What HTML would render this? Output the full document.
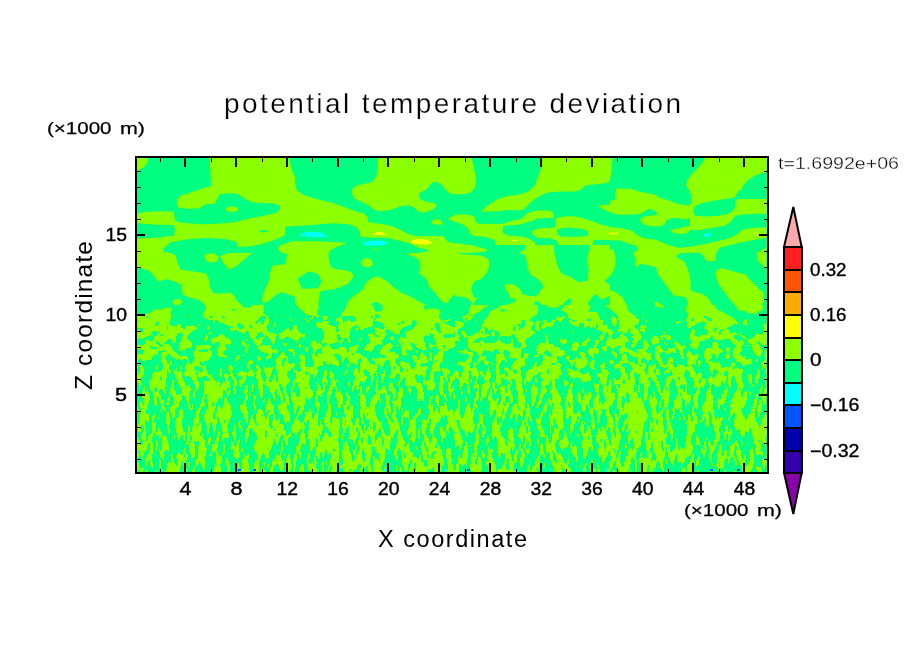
<!DOCTYPE html>
<html><head><meta charset="utf-8"><style>
html,body{margin:0;padding:0;background:#fff;width:904px;height:654px;overflow:hidden}
svg{display:block;will-change:transform}
text{font-family:'Liberation Sans',sans-serif;fill:#000}
</style></head><body>
<svg width="904" height="654" viewBox="0 0 904 654" shape-rendering="crispEdges">
<rect width="904" height="654" fill="#fff"/>

<rect x="137" y="158" width="630" height="314" fill="#8cff00"/>
<defs>
<clipPath id="t0"><rect x="135" y="156" width="160" height="80"/></clipPath>
<clipPath id="t1"><rect x="295" y="156" width="160" height="80"/></clipPath>
<clipPath id="t2"><rect x="455" y="156" width="160" height="49"/></clipPath>
<clipPath id="t3"><rect x="455" y="205" width="80" height="40"/></clipPath>
<clipPath id="t4"><rect x="535" y="205" width="80" height="40"/></clipPath>
<clipPath id="t5"><rect x="610" y="156" width="160" height="34"/></clipPath>
<clipPath id="t6"><rect x="610" y="190" width="80" height="40"/></clipPath>
<clipPath id="t7"><rect x="690" y="190" width="80" height="40"/></clipPath>
<clipPath id="t8"><rect x="135" y="236" width="160" height="80"/></clipPath>
<clipPath id="t9"><rect x="295" y="236" width="160" height="80"/></clipPath>
<clipPath id="t10"><rect x="455" y="245" width="160" height="80"/></clipPath>
<clipPath id="t11"><rect x="610" y="230" width="160" height="80"/></clipPath>
<clipPath id="t12"><rect x="135" y="305" width="80" height="40"/></clipPath>
<clipPath id="t13"><rect x="215" y="305" width="80" height="40"/></clipPath>
<clipPath id="t14"><rect x="295" y="305" width="80" height="40"/></clipPath>
<clipPath id="t15"><rect x="375" y="305" width="80" height="40"/></clipPath>
<clipPath id="t16"><rect x="455" y="305" width="80" height="40"/></clipPath>
<clipPath id="t17"><rect x="535" y="305" width="80" height="40"/></clipPath>
<clipPath id="t18"><rect x="610" y="305" width="80" height="40"/></clipPath>
<clipPath id="t19"><rect x="690" y="305" width="80" height="40"/></clipPath>
<clipPath id="plotclip"><rect x="137" y="158" width="630" height="314"/></clipPath>
</defs>
<g shape-rendering="auto" clip-path="url(#plotclip)">
<g clip-path="url(#t0)"><rect x="135" y="156" width="160" height="80" fill="#8cff00"/>
<g transform="translate(135,156) scale(0.176991)">
<polygon points="75,0 420,0 425,60 430,170 400,178 330,200 270,220 240,240 235,265 245,290 280,298 360,296 400,272 455,268 465,240 480,215 540,210 580,215 620,240 660,262 780,268 815,280 820,300 800,320 740,335 640,355 560,375 460,383 380,385 300,380 250,375 225,360 220,315 150,312 60,315 25,322 0,330 0,85 40,70 70,40" fill="#00ff80"/>
<polygon points="510,300 520,290 548,285 575,290 585,300 575,312 548,316 520,312" fill="#8cff00"/>
<polygon points="0,370 30,382 120,388 215,390 225,410 222,440 215,452 0,452" fill="#00ff80"/>
<polygon points="870,0 904,0 904,120 895,100 880,60" fill="#00ff80"/>
<polygon points="850,400 904,395 904,452 845,452" fill="#00ff80"/>
<polygon points="700,425 720,418 745,420 750,428 720,432" fill="#00ff80"/>
</g></g>
<g clip-path="url(#t1)"><rect x="295" y="156" width="160" height="80" fill="#8cff00"/>
<g transform="translate(295,156) scale(0.176991)">
<polygon points="0,0 470,0 468,60 460,110 440,145 400,155 350,165 325,185 320,210 335,240 380,262 420,282 445,302 480,312 540,305 590,285 640,278 670,290 695,312 730,320 780,302 800,280 790,265 740,258 708,245 700,210 740,190 775,150 800,145 830,165 860,200 880,215 904,215 904,335 880,345 865,355 880,365 904,370 904,452 680,452 640,440 600,420 560,400 500,385 415,375 410,345 390,325 330,308 270,285 200,262 120,243 50,220 10,195 0,150" fill="#00ff80"/>
<polygon points="770,370 790,358 810,356 830,368 835,385 800,388 772,382" fill="#8cff00"/>
<polygon points="0,395 60,392 150,385 220,380 300,385 345,400 360,420 370,452 0,452" fill="#00ff80"/>
<polygon points="35,440 60,430 120,430 160,435 175,452 30,452" fill="#00ffff"/>
<polygon points="445,440 465,428 490,430 510,440 505,446 445,446" fill="#ffff00"/>
</g></g>
<g clip-path="url(#t2)"><rect x="455" y="156" width="160" height="49" fill="#00ff80"/>
<g transform="translate(455,156) scale(0.176991)">
<polygon points="0,0 90,0 105,60 118,120 112,180 90,205 60,215 0,218" fill="#8cff00"/>
<polygon points="495,0 890,0 885,60 880,120 870,150 820,158 740,165 710,190 680,200 600,200 530,205 490,220 450,245 420,270 400,295 350,308 280,310 200,312 150,315 165,295 200,270 240,245 280,230 330,222 380,215 420,195 450,165 465,130 475,100 490,60" fill="#8cff00"/>
</g></g>
<g clip-path="url(#t3)"><rect x="455" y="205" width="80" height="40" fill="#00ff80"/>
<g transform="translate(455,205) scale(0.088496)">
<polygon points="295,75 490,72 560,58 670,60 760,55 800,30 820,0 370,0" fill="#8cff00"/>
<polygon points="0,105 160,110 215,130 240,195 270,212 480,215 560,210 600,190 650,175 740,160 780,130 820,90 870,75 904,65 904,170 860,180 800,200 760,215 700,225 600,230 550,240 535,280 545,320 600,345 700,350 800,365 850,390 904,420 904,452 460,452 450,400 420,380 350,365 210,350 170,320 150,270 120,240 60,210 0,190" fill="#8cff00"/>
<polygon points="870,290 904,285 904,345 875,335" fill="#8cff00"/>
<polygon points="0,430 60,435 120,445 125,452 0,452" fill="#8cff00"/>
<polygon points="645,395 710,395 710,405 645,405" fill="#ffff00"/>
</g></g>
<g clip-path="url(#t4)"><rect x="535" y="205" width="80" height="40" fill="#00ff80"/>
<g transform="translate(535,205) scale(0.088496)">
<polygon points="715,0 904,0 904,100 870,90 820,70 770,45 730,20" fill="#8cff00"/>
<polygon points="0,70 60,60 180,65 210,100 215,145 80,150 0,155" fill="#8cff00"/>
<polygon points="230,150 340,128 440,128 520,145 600,170 680,195 760,225 830,240 904,250 904,400 830,395 700,392 660,400 650,452 270,452 240,400 190,380 60,370 0,365 0,270 80,262 200,258 225,250" fill="#8cff00"/>
<polygon points="250,275 300,262 380,255 460,262 540,270 590,290 605,320 590,345 540,355 380,358 290,355 260,330 248,300" fill="#00ff80"/>
<polygon points="825,318 904,318 904,335 880,335 825,325" fill="#ffff00"/>
</g></g>
<g clip-path="url(#t5)"><rect x="610" y="156" width="160" height="34" fill="#00ff80"/>
<g transform="translate(610,156) scale(0.176991)">
<polygon points="0,10 15,10 10,60 5,110 0,130" fill="#8cff00"/>
<polygon points="545,0 904,0 904,90 870,95 820,110 780,135 755,165 740,192 735,200 460,200 445,190 430,165 435,140 460,105 490,75 520,40" fill="#8cff00"/>
<polygon points="30,200 35,185 60,183 120,186 200,200 210,210 30,210" fill="#8cff00"/>
</g></g>
<g clip-path="url(#t6)"><rect x="610" y="190" width="80" height="40" fill="#00ff80"/>
<g transform="translate(610,190) scale(0.088496)">
<polygon points="0,125 40,115 65,95 60,40 70,0 290,0 300,10 400,30 480,45 530,65 560,90 620,105 700,130 780,160 904,175 904,320 860,330 780,318 700,318 650,335 630,360 615,390 580,410 500,412 420,402 370,380 345,350 345,320 380,300 450,290 510,282 540,275 520,250 490,225 450,213 410,228 370,255 330,270 280,278 100,280 40,265 0,250" fill="#8cff00"/>
<polygon points="700,452 740,440 820,420 870,410 904,405 904,452" fill="#8cff00"/>
<polygon points="0,420 60,425 150,435 210,452 0,452" fill="#8cff00"/>
</g></g>
<g clip-path="url(#t7)"><rect x="690" y="190" width="80" height="40" fill="#8cff00"/>
<g transform="translate(690,190) scale(0.088496)">
<polygon points="560,0 904,0 904,100 545,102 515,130 510,180 500,215 470,245 420,270 320,290 170,300 60,290 40,260 35,215 60,180 130,150 250,125 380,105 480,90 510,80 530,40" fill="#00ff80"/>
<polygon points="0,30 15,40 20,100 15,150 0,160" fill="#00ff80"/>
<polygon points="110,452 200,435 300,420 400,400 460,360 490,320 520,290 600,278 700,270 904,268 904,430 800,420 700,430 600,445 590,452" fill="#00ff80"/>
</g></g>
<g clip-path="url(#t8)"><rect x="135" y="236" width="160" height="80" fill="#8cff00"/>
<g transform="translate(135,236) scale(0.176991)">
<polygon points="0,0 180,0 150,8 80,12 0,14" fill="#00ff80"/>
<polygon points="155,78 200,35 300,18 400,12 520,18 575,35 580,62 650,60 740,40 820,8 835,0 904,0 904,25 860,40 815,55 808,75 825,95 860,100 850,160 780,165 765,200 760,240 740,290 720,340 720,380 700,400 640,405 600,385 570,360 560,335 540,320 470,325 440,320 425,290 415,240 400,210 330,200 260,190 240,150 230,110 200,95 165,90" fill="#00ff80"/>
<polygon points="390,110 410,98 450,100 475,120 460,145 430,150 400,140" fill="#8cff00"/>
<polygon points="480,115 520,98 600,95 660,97 620,130 580,165 545,185 520,182 500,150" fill="#8cff00"/>
<polygon points="0,180 40,185 80,195 110,230 130,255 180,245 220,255 260,275 270,330 300,345 360,360 390,380 395,410 380,440 390,452 200,452 215,430 210,410 170,405 100,430 60,452 0,452" fill="#00ff80"/>
<polygon points="210,370 225,357 255,358 265,375 250,392 225,392" fill="#8cff00"/>
<polygon points="720,380 760,365 800,330 830,318 870,330 904,345 904,452 730,452 725,420" fill="#00ff80"/>
<polygon points="540,418 555,410 575,415 570,425 545,425" fill="#00ff80"/>
</g></g>
<g clip-path="url(#t9)"><rect x="295" y="236" width="160" height="80" fill="#8cff00"/>
<g transform="translate(295,236) scale(0.176991)">
<polygon points="0,0 370,0 380,5 450,10 530,12 560,20 640,40 700,68 750,75 740,90 700,95 620,100 680,120 705,140 710,180 700,210 740,240 760,290 800,330 830,370 860,380 880,350 904,330 904,452 830,452 825,420 780,400 720,380 650,340 600,320 560,290 520,255 470,228 430,240 400,265 385,300 360,320 330,340 300,370 285,400 270,440 260,452 120,452 130,400 140,320 150,310 230,300 300,270 330,230 320,205 290,195 220,185 200,170 190,130 190,95 200,80 240,60 280,45 290,38 130,30 0,30" fill="#00ff80"/>
<polygon points="370,150 385,130 410,125 435,135 440,160 425,175 390,175" fill="#8cff00"/>
<polygon points="840,0 904,0 904,40 870,35 850,20" fill="#00ff80"/>
<polygon points="60,0 185,0 180,5 65,5" fill="#00ffff"/>
<polygon points="380,40 420,28 480,25 530,40 500,52 430,55 390,50" fill="#00ffff"/>
<polygon points="655,25 690,17 740,20 780,40 740,48 680,45 660,38" fill="#ffff00"/>
<polygon points="445,72 465,72 465,78 445,78" fill="#8cff00"/>
<polygon points="15,240 75,200 130,215 150,255 130,295 40,298" fill="#00ff80"/>
<polygon points="425,390 450,372 480,380 495,410 480,430 445,425" fill="#00ff80"/>
</g></g>
<g clip-path="url(#t10)"><rect x="455" y="245" width="160" height="80" fill="#8cff00"/>
<g transform="translate(455,245) scale(0.176991)">
<polygon points="90,0 400,0 395,25 360,45 395,55 405,90 410,130 425,165 480,200 500,235 480,260 465,285 420,290 380,275 365,245 330,222 285,222 280,240 300,270 310,300 340,305 345,320 300,335 250,345 210,370 185,400 165,452 50,452 40,420 65,400 90,370 100,340 115,310 160,290 205,265 215,245 250,260 230,285 170,300 110,300 95,270 92,240 110,205 150,190 185,150 195,110 190,80 150,60 80,55 20,50 20,45 90,45 175,38 185,25" fill="#00ff80"/>
<polygon points="0,290 60,295 95,320 85,360 60,390 45,420 0,440" fill="#00ff80"/>
<polygon points="560,0 760,0 755,40 745,80 755,130 750,200 700,210 650,180 600,160 580,120 570,80 560,40" fill="#00ff80"/>
<polygon points="880,0 904,0 904,20 880,15" fill="#00ff80"/>
<polygon points="904,120 880,170 845,205 880,228 890,260 870,290 830,310 800,280 780,285 750,330 770,370 810,400 820,452 904,452" fill="#00ff80"/>
<polygon points="445,320 470,320 500,345 560,355 600,350 620,320 650,300 660,320 620,360 610,390 640,420 680,430 700,452 350,452 380,440 430,420 440,390 460,360 450,340" fill="#00ff80"/>
<polygon points="255,372 270,365 285,370 280,380 260,380" fill="#8cff00"/>
</g></g>
<g clip-path="url(#t11)"><rect x="610" y="230" width="160" height="80" fill="#00ff80"/>
<g transform="translate(610,230) scale(0.176991)">
<polygon points="0,0 120,0 150,25 190,45 260,55 330,85 390,100 450,95 530,80 600,65 680,45 730,15 745,0 885,0 885,45 820,55 740,70 680,85 620,100 600,130 595,175 540,175 530,150 510,128 400,130 370,150 420,180 440,220 455,280 455,340 480,350 520,360 550,380 590,440 600,452 430,452 440,420 430,380 360,370 330,330 300,290 270,250 260,210 220,200 170,190 150,210 140,195 150,175 130,130 160,110 150,90 100,75 60,60 0,58" fill="#8cff00"/>
<polygon points="0,110 20,108 30,150 30,200 15,240 0,260" fill="#8cff00"/>
<polygon points="600,230 630,215 700,235 760,250 800,290 840,330 865,350 870,400 850,440 830,452 720,452 700,420 660,370 630,330 605,290 598,260" fill="#8cff00"/>
<polygon points="830,130 860,110 885,100 885,210 860,200 835,170" fill="#8cff00"/>
<polygon points="0,340 30,350 70,380 95,430 100,452 0,452" fill="#8cff00"/>
<polygon points="0,15 45,15 45,25 0,25" fill="#ffff00"/>
<polygon points="810,15 835,15 835,22 810,22" fill="#ffff00"/>
<polygon points="520,35 545,18 575,18 565,35 540,40" fill="#00ffff"/>
<polygon points="340,0 450,0 440,15 400,22 355,15" fill="#8cff00"/>
<polygon points="250,410 270,405 300,435 260,440" fill="#8cff00"/>
</g></g>
<g clip-path="url(#t12)"><rect x="135" y="305" width="80" height="40" fill="#8cff00"/>
<g transform="translate(135,305) scale(0.088496)">
<polygon points="0,0 800,0 800,40 765,100 780,150 820,165 904,165 904,300 840,310 790,330 750,380 720,420 680,452 640,452 590,400 580,360 620,320 660,280 720,270 680,240 640,230 580,230 570,270 520,260 470,240 420,235 390,215 400,170 410,120 400,70 420,50 400,30 350,30 300,50 210,50 200,70 170,90 120,100 30,105 0,110" fill="#00ff80"/>
<polygon points="0,452 0,420 50,400 130,360 180,340 210,350 220,390 190,410 160,452" fill="#00ff80"/>
<polygon points="740,452 730,390 780,340 820,320 860,330 904,340 904,452" fill="#00ff80"/>
<polygon points="780,380 800,340 830,350 820,400 790,400" fill="#8cff00"/>
<polygon points="330,240 370,240 370,280 335,280" fill="#00ff80"/>
<polygon points="250,320 270,300 290,325" fill="#00ff80"/>
</g></g>
<g clip-path="url(#t13)"><rect x="215" y="305" width="80" height="40" fill="#8cff00"/>
<g transform="translate(215,305) scale(0.088496)">
<polygon points="290,0 420,0 410,20 380,30 320,25" fill="#00ff80"/>
<polygon points="550,0 904,0 904,270 820,260 780,290 740,320 680,325 620,310 590,290 580,250 600,220 615,190 600,130 570,110 540,95 555,60" fill="#00ff80"/>
<polygon points="0,170 30,170 50,195 120,215 150,235 200,250 250,290 300,310 340,330 350,370 330,400 360,405 400,370 430,390 440,452 0,452" fill="#00ff80"/>
<polygon points="0,360 30,365 35,452 0,452" fill="#8cff00"/>
<polygon points="490,320 510,300 540,320 560,355 500,360" fill="#00ff80"/>
<polygon points="180,55 200,45 235,50 230,65 185,65" fill="#00ff80"/>
<polygon points="70,135 90,125 110,130 110,145 75,145" fill="#00ff80"/>
<polygon points="505,205 520,195 550,205 545,215 510,215" fill="#00ff80"/>
<polygon points="880,400 904,395 904,452 870,452" fill="#00ff80"/>
</g></g>
<g clip-path="url(#t14)"><rect x="295" y="305" width="80" height="40" fill="#00ff80"/>
<g transform="translate(295,305) scale(0.088496)">
<polygon points="30,0 270,0 265,40 250,70 250,100 280,130 240,150 200,160 150,165 150,155 190,140 190,115 120,110 90,70 50,40 30,15" fill="#8cff00"/>
<polygon points="590,0 880,0 890,30 904,60 904,140 890,160 885,200 880,260 840,250 780,260 760,290 740,280 720,250 700,230 660,240 630,270 620,320 610,380 640,420 660,452 310,452 310,400 330,350 320,300 290,240 295,200 310,185 370,180 410,200 440,220 490,225 495,195 460,180 465,150 500,140 520,130 520,95 560,60 570,30" fill="#8cff00"/>
<polygon points="530,140 550,125 590,130 600,160 590,190 540,190" fill="#00ff80"/>
<polygon points="0,285 20,290 40,330 45,370 30,390 0,400" fill="#8cff00"/>
<polygon points="880,260 904,250 904,420 870,410 850,350 870,300" fill="#8cff00"/>
</g></g>
<g clip-path="url(#t15)"><rect x="375" y="305" width="80" height="40" fill="#8cff00"/>
<g transform="translate(375,305) scale(0.088496)">
<polygon points="0,0 80,0 90,40 60,70 20,75 0,70" fill="#00ff80"/>
<polygon points="0,100 40,110 55,140 20,150 0,150" fill="#00ff80"/>
<polygon points="0,180 30,190 50,230 40,255 0,260" fill="#00ff80"/>
<polygon points="550,0 904,0 904,250 860,240 820,220 770,200 740,160 720,130 740,80 740,60 680,40 600,40 580,60 550,30" fill="#00ff80"/>
<polygon points="120,270 170,290 230,330 280,320 290,270 340,250 400,220 440,220 450,240 420,270 370,300 320,340 290,360 260,400 280,430 300,452 100,452 80,400 130,340 120,300" fill="#00ff80"/>
<polygon points="560,350 630,320 660,330 670,380 690,420 680,452 560,452 550,400" fill="#00ff80"/>
<polygon points="880,320 904,300 904,360 875,360" fill="#00ff80"/>
<polygon points="840,420 870,405 880,452 840,452" fill="#00ff80"/>
<polygon points="680,205 720,205 720,260 680,260" fill="#00ff80"/>
<polygon points="295,215 300,175 320,170 330,215" fill="#00ff80"/>
<polygon points="0,330 40,350 50,360 0,365" fill="#00ff80"/>
<polygon points="0,420 40,430 45,452 0,452" fill="#00ff80"/>
</g></g>
<g clip-path="url(#t16)"><rect x="455" y="305" width="80" height="40" fill="#8cff00"/>
<g transform="translate(455,305) scale(0.088496)">
<polygon points="0,0 540,0 500,15 475,40 438,52 406,65 388,90 375,121 356,146 331,177 306,227 290,270 280,300 230,320 200,340 140,355 130,300 100,290 40,300 30,270 90,250 110,230 100,200 60,190 20,175 0,180" fill="#00ff80"/>
<polygon points="194,0 375,0 369,9 338,27 300,52 281,77 231,96 219,109 156,115 131,140 125,165 134,196 113,196 94,165 81,140 100,127 138,102 156,90 163,27 188,2" fill="#8cff00"/>
<polygon points="330,250 370,260 380,290 420,280 460,290 500,320 510,360 530,380 560,350 600,360 590,400 540,452 180,452 220,400 280,370 330,350 340,300" fill="#00ff80"/>
<polygon points="650,260 700,220 790,205 790,240 740,270 700,300 660,300" fill="#00ff80"/>
<polygon points="840,170 904,120 904,300 870,290 860,250 900,200" fill="#00ff80"/>
<polygon points="710,452 720,400 780,400 850,360 880,330 904,320 904,452" fill="#00ff80"/>
<polygon points="40,380 70,330 100,360 110,400 60,410" fill="#00ff80"/>
<polygon points="0,420 50,440 60,452 0,452" fill="#00ff80"/>
<polygon points="510,60 540,45 575,60 560,75 520,75" fill="#00ff80"/>
</g></g>
<g clip-path="url(#t17)"><rect x="535" y="305" width="80" height="40" fill="#00ff80"/>
<g transform="translate(535,305) scale(0.088496)">
<polygon points="0,0 30,0 35,60 30,110 0,110" fill="#8cff00"/>
<polygon points="0,190 60,175 75,180 50,200 45,240 55,290 30,290 0,280" fill="#8cff00"/>
<polygon points="0,310 20,320 30,390 0,390" fill="#8cff00"/>
<polygon points="130,0 280,0 270,25 200,30 150,25" fill="#8cff00"/>
<polygon points="330,0 620,0 630,40 600,60 620,75 700,80 720,120 740,180 740,210 780,240 840,270 880,300 904,300 904,452 750,452 740,400 720,360 760,330 780,310 740,290 700,270 660,250 630,230 590,240 570,270 550,240 560,200 520,200 500,220 490,260 450,240 420,220 390,200 360,180 380,150 370,110 340,80 290,60 320,40" fill="#8cff00"/>
<polygon points="410,180 440,160 460,180 440,190" fill="#00ff80"/>
<polygon points="800,0 904,0 904,90 880,80 850,40 810,20" fill="#8cff00"/>
<polygon points="310,390 340,385 330,452 310,452" fill="#8cff00"/>
</g></g>
<g clip-path="url(#t18)"><rect x="610" y="305" width="80" height="40" fill="#00ff80"/>
<g transform="translate(610,305) scale(0.088496)">
<polygon points="0,0 190,0 200,60 240,90 290,130 320,170 325,210 280,230 270,250 300,270 330,280 330,320 360,350 350,390 300,400 260,420 240,452 110,452 100,400 110,320 80,300 100,260 100,180 80,110 40,80 0,45" fill="#8cff00"/>
<polygon points="195,350 225,330 250,350 260,400 230,420 200,400" fill="#00ff80"/>
<polygon points="0,270 30,290 40,300 20,340 10,400 50,430 80,452 0,452" fill="#8cff00"/>
<polygon points="20,360 45,360 45,390 20,390" fill="#00ff80"/>
<polygon points="340,240 370,228 430,240 390,260 350,275" fill="#8cff00"/>
<polygon points="500,0 600,0 610,25 560,25 520,15" fill="#8cff00"/>
<polygon points="870,0 904,0 904,270 880,260 850,180 880,140 880,100 860,60 860,30" fill="#8cff00"/>
<polygon points="735,210 770,180 790,175 790,200 760,215" fill="#8cff00"/>
<polygon points="470,430 510,410 560,410 570,452 470,452" fill="#8cff00"/>
<polygon points="570,350 600,340 680,335 690,390 720,410 750,440 740,452 620,452 600,400 570,390" fill="#8cff00"/>
</g></g>
<g clip-path="url(#t19)"><rect x="690" y="305" width="80" height="40" fill="#8cff00"/>
<g transform="translate(690,305) scale(0.088496)">
<polygon points="280,0 500,0 530,30 560,70 600,60 650,90 760,100 780,70 820,60 830,0 904,0 904,180 840,220 790,260 760,300 740,330 720,360 690,380 650,380 600,340 570,330 530,320 500,280 490,240 520,215 560,210 530,180 480,140 420,110 370,80 320,60 290,30" fill="#00ff80"/>
<polygon points="0,260 50,230 100,200 150,185 180,200 170,240 150,270 190,300 200,330 160,340 120,340 100,380 80,410 70,452 0,452" fill="#00ff80"/>
<polygon points="195,150 230,140 250,160 245,180 200,180" fill="#00ff80"/>
<polygon points="10,165 30,150 50,165 45,180 15,180" fill="#00ff80"/>
<polygon points="510,340 550,330 580,360 620,380 680,420 720,452 560,452 540,400 510,380" fill="#00ff80"/>
<polygon points="780,290 800,270 830,300 820,320 790,320" fill="#00ff80"/>
<polygon points="400,420 420,430 430,452 390,452" fill="#00ff80"/>
</g></g>
</g>
<g shape-rendering="crispEdges"><rect x="137" y="316" width="630" height="156" fill="#8cff00"/><path fill="#00ff80" d="M731 316h36v1h-36zM319 316h3v1h-3zM636 316h6v1h-6zM171 316h19v1h-19zM473 316h15v1h-15zM191 316h12v1h-12zM222 316h2v1h-2zM268 316h8v1h-8zM343 316h11v1h-11zM439 316h24v1h-24zM599 316h13v1h-13zM209 316h4v1h-4zM614 316h4v1h-4zM277 316h35v1h-35zM534 316h30v1h-30zM261 316h5v1h-5zM328 316h13v1h-13zM146 316h3v1h-3zM313 316h3v1h-3zM644 316h44v1h-44zM704 316h3v2h-3zM565 316h3v2h-3zM375 316h4v2h-4zM371 316h2v2h-2zM268 317h37v1h-37zM532 317h25v1h-25zM222 317h3v1h-3zM210 317h2v1h-2zM328 317h11v1h-11zM342 317h13v1h-13zM473 317h14v1h-14zM171 317h33v1h-33zM313 317h4v1h-4zM467 317h1v1h-1zM615 317h3v1h-3zM561 317h1v1h-1zM318 317h5v1h-5zM439 317h23v1h-23zM260 317h6v1h-6zM599 317h12v1h-12zM732 317h35v1h-35zM306 317h6v1h-6zM636 317h52v1h-52zM466 318h1v1h-1zM269 318h36v1h-36zM637 318h50v1h-50zM342 318h14v1h-14zM171 318h34v1h-34zM692 318h1v1h-1zM531 318h25v1h-25zM705 318h1v1h-1zM616 318h2v1h-2zM707 318h4v1h-4zM313 318h10v1h-10zM564 318h6v1h-6zM734 318h33v1h-33zM600 318h11v1h-11zM454 318h9v1h-9zM472 318h14v1h-14zM440 318h13v1h-13zM259 318h7v1h-7zM307 318h2v1h-2zM327 318h9v2h-9zM600 319h1v1h-1zM349 319h7v1h-7zM707 319h5v1h-5zM639 319h47v1h-47zM269 319h20v1h-20zM291 319h14v1h-14zM735 319h11v1h-11zM441 319h7v1h-7zM450 319h13v1h-13zM170 319h38v1h-38zM617 319h1v1h-1zM471 319h14v1h-14zM602 319h9v1h-9zM258 319h7v1h-7zM563 319h8v1h-8zM466 319h2v1h-2zM530 319h26v1h-26zM342 319h6v1h-6zM307 319h17v1h-17zM374 318h1v3h-1zM587 319h4v2h-4zM691 319h3v2h-3zM137 319h1v2h-1zM530 320h13v1h-13zM546 320h6v1h-6zM350 320h6v1h-6zM572 320h3v1h-3zM680 320h6v1h-6zM441 320h1v1h-1zM639 320h7v1h-7zM170 320h44v1h-44zM215 320h3v1h-3zM466 320h18v1h-18zM736 320h8v1h-8zM343 320h5v1h-5zM337 320h1v1h-1zM647 320h32v1h-32zM257 320h8v1h-8zM413 320h2v1h-2zM522 320h3v1h-3zM555 320h3v1h-3zM291 320h15v1h-15zM308 320h28v1h-28zM269 320h21v1h-21zM450 320h14v1h-14zM562 320h8v1h-8zM708 320h4v1h-4zM603 320h8v2h-8zM532 321h4v1h-4zM215 321h4v1h-4zM477 321h7v1h-7zM686 321h1v1h-1zM547 321h4v1h-4zM448 321h7v1h-7zM737 321h6v1h-6zM682 321h3v1h-3zM137 321h2v1h-2zM467 321h8v1h-8zM647 321h30v1h-30zM373 321h4v1h-4zM460 321h5v1h-5zM703 321h1v1h-1zM256 321h4v1h-4zM309 321h13v1h-13zM269 321h38v1h-38zM343 321h2v1h-2zM561 321h8v1h-8zM412 321h4v1h-4zM555 321h4v1h-4zM541 321h2v1h-2zM329 321h9v1h-9zM351 321h2v1h-2zM442 321h1v1h-1zM573 321h2v1h-2zM747 319h20v4h-20zM261 321h3v2h-3zM639 321h6v2h-6zM170 321h43v2h-43zM269 322h39v1h-39zM603 322h9v1h-9zM156 322h3v1h-3zM738 322h5v1h-5zM463 322h20v1h-20zM320 322h1v1h-1zM329 322h10v1h-10zM548 322h2v1h-2zM646 322h13v1h-13zM554 322h15v1h-15zM700 322h5v1h-5zM137 322h1v1h-1zM540 322h3v1h-3zM443 322h12v1h-12zM215 322h5v1h-5zM661 322h15v1h-15zM680 322h7v1h-7zM373 322h8v1h-8zM309 322h8v1h-8zM256 322h2v1h-2zM617 320h2v4h-2zM521 321h4v3h-4zM401 321h3v3h-3zM534 322h1v2h-1zM412 322h5v2h-5zM170 323h54v1h-54zM602 323h10v1h-10zM269 323h5v1h-5zM238 323h2v1h-2zM580 323h4v1h-4zM698 323h8v1h-8zM155 323h4v1h-4zM373 323h10v1h-10zM256 323h1v1h-1zM328 323h11v1h-11zM747 323h19v1h-19zM260 323h4v1h-4zM445 323h10v1h-10zM638 323h38v1h-38zM554 323h17v1h-17zM539 323h4v1h-4zM464 323h19v1h-19zM678 323h9v1h-9zM739 323h4v1h-4zM435 323h4v2h-4zM398 323h2v2h-2zM276 323h40v2h-40zM448 324h7v1h-7zM747 324h17v1h-17zM533 324h2v1h-2zM268 324h6v1h-6zM170 324h8v1h-8zM180 324h18v1h-18zM329 324h10v1h-10zM636 324h51v1h-51zM517 324h8v1h-8zM412 324h4v1h-4zM238 324h4v1h-4zM553 324h19v1h-19zM155 324h3v1h-3zM200 324h26v1h-26zM733 324h10v1h-10zM603 324h10v1h-10zM696 324h9v1h-9zM596 324h1v1h-1zM539 324h3v2h-3zM616 324h3v2h-3zM464 324h18v2h-18zM373 324h11v2h-11zM276 325h17v1h-17zM296 325h20v1h-20zM408 325h8v1h-8zM237 325h7v1h-7zM200 325h28v1h-28zM732 325h13v1h-13zM635 325h7v1h-7zM608 325h5v1h-5zM172 325h5v1h-5zM644 325h43v1h-43zM331 325h7v1h-7zM518 325h7v1h-7zM746 325h17v1h-17zM181 325h10v1h-10zM193 325h5v1h-5zM356 325h1v1h-1zM250 325h2v1h-2zM155 325h2v1h-2zM553 325h21v1h-21zM450 325h5v1h-5zM694 325h11v1h-11zM579 324h5v3h-5zM532 325h3v2h-3zM267 325h7v2h-7zM514 326h1v1h-1zM634 326h6v1h-6zM275 326h18v1h-18zM730 326h34v1h-34zM615 326h4v1h-4zM177 326h1v1h-1zM692 326h13v1h-13zM195 326h12v1h-12zM463 326h19v1h-19zM519 326h5v1h-5zM406 326h9v1h-9zM452 326h3v1h-3zM587 326h2v1h-2zM210 326h21v1h-21zM335 326h3v1h-3zM608 326h6v1h-6zM249 326h3v1h-3zM647 326h40v1h-40zM552 326h25v1h-25zM353 326h5v1h-5zM372 326h12v1h-12zM596 325h2v3h-2zM435 325h5v3h-5zM181 326h5v2h-5zM539 326h2v2h-2zM297 326h20v2h-20zM238 326h6v2h-6zM210 327h23v1h-23zM197 327h10v1h-10zM404 327h10v1h-10zM266 327h27v1h-27zM716 327h1v1h-1zM578 327h6v1h-6zM592 327h2v1h-2zM484 327h2v1h-2zM137 327h1v1h-1zM375 327h3v1h-3zM635 327h5v1h-5zM352 327h7v1h-7zM586 327h3v1h-3zM646 327h42v1h-42zM519 327h4v1h-4zM691 327h13v1h-13zM250 327h2v1h-2zM379 327h6v1h-6zM462 327h19v1h-19zM546 327h31v1h-31zM608 327h11v2h-11zM531 327h4v2h-4zM727 327h37v2h-37zM336 327h2v2h-2zM368 327h6v2h-6zM210 328h20v1h-20zM380 328h4v1h-4zM239 328h4v1h-4zM539 328h3v1h-3zM198 328h9v1h-9zM137 328h5v1h-5zM267 328h20v1h-20zM459 328h22v1h-22zM544 328h41v1h-41zM636 328h5v1h-5zM715 328h2v1h-2zM431 328h2v1h-2zM645 328h44v1h-44zM519 328h2v1h-2zM586 328h10v1h-10zM359 328h1v1h-1zM251 328h1v1h-1zM364 328h3v1h-3zM402 328h11v1h-11zM484 328h4v1h-4zM690 328h14v1h-14zM297 328h25v1h-25zM183 328h3v1h-3zM629 328h1v1h-1zM289 328h5v1h-5zM167 326h1v4h-1zM436 328h4v2h-4zM351 328h5v2h-5zM289 329h2v1h-2zM611 329h7v1h-7zM209 329h21v1h-21zM363 329h12v1h-12zM386 329h1v1h-1zM532 329h3v1h-3zM728 329h36v1h-36zM694 329h13v1h-13zM401 329h10v1h-10zM638 329h2v1h-2zM195 329h12v1h-12zM645 329h47v1h-47zM267 329h19v1h-19zM540 329h58v1h-58zM714 329h3v1h-3zM485 329h3v1h-3zM629 329h2v1h-2zM358 329h2v1h-2zM298 329h24v1h-24zM519 329h1v1h-1zM235 329h1v1h-1zM431 329h1v1h-1zM721 329h2v1h-2zM137 329h6v1h-6zM513 327h2v4h-2zM336 329h3v2h-3zM458 329h22v2h-22zM612 330h6v1h-6zM713 330h3v1h-3zM267 330h17v1h-17zM485 330h4v1h-4zM639 330h1v1h-1zM729 330h35v1h-35zM400 330h9v1h-9zM350 330h5v1h-5zM140 330h3v1h-3zM298 330h25v1h-25zM235 330h2v1h-2zM437 330h3v1h-3zM386 330h3v1h-3zM532 330h5v1h-5zM490 330h5v1h-5zM645 330h46v1h-46zM720 330h3v1h-3zM193 330h38v1h-38zM540 330h60v1h-60zM357 330h18v1h-18zM290 330h1v1h-1zM695 330h13v2h-13zM628 330h2v2h-2zM400 331h7v1h-7zM438 331h3v1h-3zM736 331h29v1h-29zM458 331h2v1h-2zM153 331h4v1h-4zM268 331h15v1h-15zM299 331h24v1h-24zM613 331h4v1h-4zM494 331h4v1h-4zM192 331h47v1h-47zM714 331h1v1h-1zM719 331h3v1h-3zM619 331h2v1h-2zM639 331h3v1h-3zM645 331h19v1h-19zM246 331h2v1h-2zM730 331h5v1h-5zM465 331h15v1h-15zM336 331h2v1h-2zM535 331h37v1h-37zM137 331h6v1h-6zM386 331h5v1h-5zM574 331h28v1h-28zM665 331h26v2h-26zM485 331h7v2h-7zM481 331h2v2h-2zM350 331h25v2h-25zM627 332h3v1h-3zM259 332h3v1h-3zM535 332h69v1h-69zM152 332h5v1h-5zM606 332h1v1h-1zM386 332h7v1h-7zM400 332h6v1h-6zM730 332h3v1h-3zM191 332h18v1h-18zM270 332h12v1h-12zM454 332h1v1h-1zM158 332h2v1h-2zM300 332h24v1h-24zM465 332h12v1h-12zM639 332h24v1h-24zM736 332h27v1h-27zM439 332h2v1h-2zM613 332h8v1h-8zM494 332h5v1h-5zM211 332h31v1h-31zM695 332h12v2h-12zM245 332h4v2h-4zM719 332h2v2h-2zM534 333h1v1h-1zM258 333h5v1h-5zM605 333h3v1h-3zM640 333h24v1h-24zM624 333h7v1h-7zM430 333h1v1h-1zM211 333h33v1h-33zM159 333h1v1h-1zM466 333h9v1h-9zM536 333h67v1h-67zM337 333h1v1h-1zM370 333h1v1h-1zM731 333h1v1h-1zM302 333h22v1h-22zM613 333h9v1h-9zM485 333h6v1h-6zM665 333h25v1h-25zM190 333h18v1h-18zM495 333h4v1h-4zM178 333h4v1h-4zM350 333h19v1h-19zM399 333h6v1h-6zM373 333h2v1h-2zM738 333h18v1h-18zM274 333h5v1h-5zM758 333h5v1h-5zM386 333h8v1h-8zM458 332h3v3h-3zM453 333h2v2h-2zM152 333h6v2h-6zM719 334h1v1h-1zM612 334h9v1h-9zM489 334h2v1h-2zM162 334h1v1h-1zM337 334h2v1h-2zM222 334h27v1h-27zM533 334h69v1h-69zM189 334h30v1h-30zM604 334h4v1h-4zM257 334h6v1h-6zM694 334h13v1h-13zM738 334h1v1h-1zM735 334h1v1h-1zM373 334h3v1h-3zM623 334h10v1h-10zM430 334h3v1h-3zM444 334h8v1h-8zM512 334h2v1h-2zM741 334h14v1h-14zM484 334h1v1h-1zM641 334h49v1h-49zM467 334h6v1h-6zM386 334h20v2h-20zM305 334h19v2h-19zM350 334h18v2h-18zM277 334h2v2h-2zM495 334h5v2h-5zM177 334h6v2h-6zM490 335h1v1h-1zM547 335h53v1h-53zM257 335h7v1h-7zM670 335h20v1h-20zM426 335h1v1h-1zM224 335h25v1h-25zM207 335h12v1h-12zM150 335h2v1h-2zM459 335h4v1h-4zM153 335h4v1h-4zM744 335h11v1h-11zM160 335h3v1h-3zM467 335h4v1h-4zM511 335h4v1h-4zM188 335h18v1h-18zM624 335h9v1h-9zM734 335h6v1h-6zM375 335h3v1h-3zM695 335h5v1h-5zM443 335h12v1h-12zM532 335h14v1h-14zM266 335h1v1h-1zM641 335h21v1h-21zM430 335h4v2h-4zM612 335h7v2h-7zM337 335h3v2h-3zM256 336h8v1h-8zM402 336h4v1h-4zM385 336h6v1h-6zM698 336h2v1h-2zM734 336h7v1h-7zM208 336h10v1h-10zM304 336h20v1h-20zM375 336h4v1h-4zM501 336h6v1h-6zM547 336h52v1h-52zM642 336h12v1h-12zM530 336h15v1h-15zM711 336h1v1h-1zM460 336h4v1h-4zM265 336h3v1h-3zM225 336h25v1h-25zM494 336h6v1h-6zM626 336h6v1h-6zM745 336h9v1h-9zM444 336h11v1h-11zM424 336h5v1h-5zM393 336h8v1h-8zM487 336h6v1h-6zM509 336h6v1h-6zM147 336h7v1h-7zM604 335h5v3h-5zM187 336h18v2h-18zM658 336h2v2h-2zM276 336h3v2h-3zM349 336h20v2h-20zM176 336h6v2h-6zM589 337h10v1h-10zM305 337h19v1h-19zM145 337h9v1h-9zM662 337h3v1h-3zM256 337h4v1h-4zM480 337h2v1h-2zM444 337h6v1h-6zM529 337h16v1h-16zM710 337h3v1h-3zM627 337h5v1h-5zM548 337h35v1h-35zM485 337h31v1h-31zM584 337h4v1h-4zM226 337h24v1h-24zM301 337h2v1h-2zM208 337h6v1h-6zM337 337h4v1h-4zM734 337h9v1h-9zM611 337h8v1h-8zM285 337h5v1h-5zM264 337h4v1h-4zM746 337h7v1h-7zM641 337h12v1h-12zM403 337h3v1h-3zM459 337h5v1h-5zM394 337h6v1h-6zM465 337h2v1h-2zM671 336h19v3h-19zM424 337h10v2h-10zM384 337h6v2h-6zM735 338h9v1h-9zM478 338h39v1h-39zM349 338h10v1h-10zM337 338h5v1h-5zM659 338h1v1h-1zM604 338h4v1h-4zM276 338h4v1h-4zM143 338h11v1h-11zM747 338h4v1h-4zM263 338h6v1h-6zM229 338h23v1h-23zM187 338h17v1h-17zM138 338h2v1h-2zM709 338h4v1h-4zM256 338h3v1h-3zM344 338h3v1h-3zM527 338h18v1h-18zM612 338h4v1h-4zM584 338h3v1h-3zM561 338h22v1h-22zM283 338h8v1h-8zM662 338h4v1h-4zM641 338h11v2h-11zM299 338h24v2h-24zM362 338h7v2h-7zM394 338h5v2h-5zM459 338h9v2h-9zM590 338h10v2h-10zM208 338h3v2h-3zM565 339h22v1h-22zM275 339h6v1h-6zM350 339h9v1h-9zM724 339h6v1h-6zM263 339h7v1h-7zM188 339h16v1h-16zM338 339h4v1h-4zM137 339h17v1h-17zM283 339h10v1h-10zM562 339h1v1h-1zM476 339h22v1h-22zM383 339h8v1h-8zM230 339h15v1h-15zM663 339h4v1h-4zM706 339h8v1h-8zM671 339h20v1h-20zM168 339h3v1h-3zM248 339h5v1h-5zM603 339h4v1h-4zM526 339h19v1h-19zM659 339h2v1h-2zM500 339h12v1h-12zM257 339h1v1h-1zM736 339h11v1h-11zM628 338h5v3h-5zM344 339h4v2h-4zM424 339h11v2h-11zM149 340h4v1h-4zM738 340h2v1h-2zM361 340h9v1h-9zM382 340h16v1h-16zM500 340h11v1h-11zM590 340h5v1h-5zM460 340h8v1h-8zM704 340h27v1h-27zM567 340h19v1h-19zM475 340h6v1h-6zM298 340h16v1h-16zM167 340h5v1h-5zM231 340h14v1h-14zM599 340h1v1h-1zM338 340h3v1h-3zM315 340h7v1h-7zM646 340h6v1h-6zM247 340h6v1h-6zM207 340h4v1h-4zM602 340h5v1h-5zM350 340h10v1h-10zM189 340h16v1h-16zM483 340h14v1h-14zM176 338h5v4h-5zM548 338h12v4h-12zM513 339h5v3h-5zM262 340h9v2h-9zM659 340h32v2h-32zM638 340h5v2h-5zM275 340h20v2h-20zM525 340h21v2h-21zM743 340h5v2h-5zM298 341h14v1h-14zM501 341h10v1h-10zM700 341h15v1h-15zM244 341h9v1h-9zM351 341h19v1h-19zM484 341h12v1h-12zM758 341h1v1h-1zM629 341h3v1h-3zM589 341h6v1h-6zM191 341h21v1h-21zM424 341h12v1h-12zM647 341h5v1h-5zM156 341h2v1h-2zM343 341h5v1h-5zM738 341h1v1h-1zM166 341h6v1h-6zM474 341h6v1h-6zM716 341h15v1h-15zM382 341h17v1h-17zM567 341h17v1h-17zM316 341h6v2h-6zM757 342h3v1h-3zM156 342h3v1h-3zM718 342h14v1h-14zM567 342h7v1h-7zM477 342h3v1h-3zM336 342h3v1h-3zM425 342h11v1h-11zM473 342h2v1h-2zM275 342h8v1h-8zM165 342h8v1h-8zM484 342h11v1h-11zM350 342h20v1h-20zM216 342h1v1h-1zM297 342h14v1h-14zM218 342h1v1h-1zM403 342h1v1h-1zM744 342h4v1h-4zM626 342h6v1h-6zM678 342h13v1h-13zM548 342h13v1h-13zM578 342h5v1h-5zM513 342h7v1h-7zM699 342h14v1h-14zM342 342h6v1h-6zM262 342h10v1h-10zM245 342h9v1h-9zM383 342h16v1h-16zM665 342h9v1h-9zM659 342h5v1h-5zM175 342h5v1h-5zM502 342h9v1h-9zM284 342h12v1h-12zM525 342h20v1h-20zM137 340h8v4h-8zM231 341h11v3h-11zM599 341h7v3h-7zM192 342h20v2h-20zM648 342h4v2h-4zM637 342h6v2h-6zM402 343h1v1h-1zM658 343h6v1h-6zM744 343h5v1h-5zM410 343h4v1h-4zM391 343h9v1h-9zM426 343h3v1h-3zM513 343h8v1h-8zM382 343h6v1h-6zM625 343h8v1h-8zM526 343h14v1h-14zM431 343h5v1h-5zM164 343h15v1h-15zM245 343h10v1h-10zM333 343h7v1h-7zM566 343h7v1h-7zM288 343h23v1h-23zM679 343h12v1h-12zM274 343h9v1h-9zM758 343h3v1h-3zM549 343h12v1h-12zM214 343h6v1h-6zM666 343h8v1h-8zM261 343h11v1h-11zM156 343h4v1h-4zM543 343h1v1h-1zM323 343h4v1h-4zM718 343h15v1h-15zM341 343h28v1h-28zM505 343h5v1h-5zM320 343h2v1h-2zM455 341h13v4h-13zM587 342h8v3h-8zM579 343h3v2h-3zM410 344h5v1h-5zM564 344h8v1h-8zM140 344h4v1h-4zM246 344h10v1h-10zM513 344h9v1h-9zM719 344h16v1h-16zM329 344h38v1h-38zM392 344h9v1h-9zM137 344h2v1h-2zM261 344h22v1h-22zM381 344h2v1h-2zM655 344h10v1h-10zM321 344h6v1h-6zM667 344h8v1h-8zM192 344h28v1h-28zM743 344h9v1h-9zM759 344h2v1h-2zM287 344h12v1h-12zM480 344h1v1h-1zM425 344h4v1h-4zM229 344h13v1h-13zM526 344h13v1h-13zM680 344h10v1h-10zM432 344h3v1h-3zM649 344h4v1h-4zM553 344h9v1h-9zM225 344h3v1h-3zM301 344h10v1h-10zM169 344h10v1h-10zM384 344h2v1h-2zM158 344h4v1h-4zM378 344h1v1h-1zM699 343h13v3h-13zM636 344h7v2h-7zM597 344h9v2h-9zM444 345h1v1h-1zM685 345h5v1h-5zM271 345h12v1h-12zM399 345h2v1h-2zM649 345h9v1h-9zM586 345h8v1h-8zM286 345h12v1h-12zM743 345h4v1h-4zM580 345h1v1h-1zM260 345h2v1h-2zM249 345h8v1h-8zM210 345h1v1h-1zM619 345h1v1h-1zM159 345h4v1h-4zM322 345h4v1h-4zM666 345h9v1h-9zM393 345h3v1h-3zM513 345h8v1h-8zM554 345h18v1h-18zM266 345h2v1h-2zM212 345h7v1h-7zM301 345h8v1h-8zM359 345h7v1h-7zM659 345h6v1h-6zM411 345h5v1h-5zM330 345h25v1h-25zM226 345h17v1h-17zM376 345h7v1h-7zM170 345h9v1h-9zM456 345h12v1h-12zM681 345h2v1h-2zM199 345h2v1h-2zM527 345h11v1h-11zM749 345h2v1h-2zM625 344h6v3h-6zM192 345h4v2h-4zM760 345h7v2h-7zM426 345h3v2h-3zM718 345h18v2h-18zM661 346h14v1h-14zM330 346h21v1h-21zM455 346h13v1h-13zM579 346h15v1h-15zM374 346h9v1h-9zM514 346h7v1h-7zM271 346h27v1h-27zM607 346h3v1h-3zM150 346h2v1h-2zM225 346h20v1h-20zM555 346h17v1h-17zM526 346h11v1h-11zM617 346h4v1h-4zM211 346h8v1h-8zM649 346h8v1h-8zM412 346h4v1h-4zM433 346h2v1h-2zM322 346h3v1h-3zM596 346h8v1h-8zM159 346h3v1h-3zM171 346h8v1h-8zM393 346h8v1h-8zM635 346h8v1h-8zM301 346h10v1h-10zM249 346h9v1h-9zM698 346h15v1h-15zM358 346h7v2h-7zM686 346h5v2h-5zM443 346h2v2h-2zM662 347h13v1h-13zM426 347h4v1h-4zM633 347h10v1h-10zM226 347h19v1h-19zM432 347h5v1h-5zM761 347h6v1h-6zM412 347h5v1h-5zM454 347h14v1h-14zM698 347h14v1h-14zM596 347h6v1h-6zM578 347h15v1h-15zM374 347h8v1h-8zM346 347h4v1h-4zM150 347h7v1h-7zM525 347h12v1h-12zM615 347h6v1h-6zM626 347h6v1h-6zM191 347h5v1h-5zM730 347h5v1h-5zM719 347h8v1h-8zM392 347h10v1h-10zM514 347h5v1h-5zM308 347h4v1h-4zM559 347h13v1h-13zM211 347h7v1h-7zM271 347h34v1h-34zM607 347h4v1h-4zM331 347h8v1h-8zM741 346h11v3h-11zM248 347h10v2h-10zM648 347h7v2h-7zM172 347h7v2h-7zM730 348h4v1h-4zM684 348h10v1h-10zM719 348h7v1h-7zM597 348h5v1h-5zM332 348h6v1h-6zM210 348h8v1h-8zM186 348h10v1h-10zM443 348h1v1h-1zM662 348h6v1h-6zM450 348h19v1h-19zM697 348h9v1h-9zM151 348h6v1h-6zM358 348h6v1h-6zM607 348h5v1h-5zM272 348h33v1h-33zM373 348h9v1h-9zM675 348h2v1h-2zM628 348h15v1h-15zM413 348h5v1h-5zM578 348h11v1h-11zM391 348h11v1h-11zM431 348h7v1h-7zM346 348h3v1h-3zM522 348h15v1h-15zM427 348h3v1h-3zM227 348h18v1h-18zM614 348h6v1h-6zM320 348h2v1h-2zM762 348h5v2h-5zM560 348h11v2h-11zM294 349h10v1h-10zM226 349h19v1h-19zM318 349h4v1h-4zM495 349h3v1h-3zM449 349h15v1h-15zM607 349h12v1h-12zM721 349h4v1h-4zM522 349h14v1h-14zM209 349h8v1h-8zM201 349h7v1h-7zM629 349h9v1h-9zM676 349h2v1h-2zM173 349h6v1h-6zM647 349h8v1h-8zM357 349h7v1h-7zM277 349h11v1h-11zM663 349h4v1h-4zM163 349h1v1h-1zM599 349h4v1h-4zM412 349h10v1h-10zM742 349h10v1h-10zM185 349h10v1h-10zM248 349h11v1h-11zM272 349h2v1h-2zM407 349h1v1h-1zM137 349h3v1h-3zM467 349h3v1h-3zM390 349h12v1h-12zM373 349h8v1h-8zM427 349h12v1h-12zM308 348h5v3h-5zM577 349h11v2h-11zM683 349h22v2h-22zM173 350h7v1h-7zM504 350h3v1h-3zM211 350h6v1h-6zM599 350h5v1h-5zM632 350h5v1h-5zM357 350h8v1h-8zM664 350h3v1h-3zM163 350h2v1h-2zM225 350h20v1h-20zM742 350h11v1h-11zM573 350h1v1h-1zM372 350h8v1h-8zM564 350h7v1h-7zM278 350h10v1h-10zM546 350h2v1h-2zM468 350h3v1h-3zM248 350h12v1h-12zM484 350h2v1h-2zM418 350h5v1h-5zM424 350h15v1h-15zM723 350h3v1h-3zM489 350h1v1h-1zM607 350h5v1h-5zM316 350h6v1h-6zM613 350h6v1h-6zM406 350h3v1h-3zM447 350h16v1h-16zM199 350h9v1h-9zM411 350h5v1h-5zM294 350h11v1h-11zM522 350h15v1h-15zM389 350h13v1h-13zM183 350h12v1h-12zM494 350h5v1h-5zM347 349h2v3h-2zM763 350h3v2h-3zM646 350h9v2h-9zM199 351h8v1h-8zM468 351h4v1h-4zM634 351h3v1h-3zM545 351h4v1h-4zM723 351h4v1h-4zM565 351h22v1h-22zM473 351h3v1h-3zM418 351h21v1h-21zM614 351h5v1h-5zM394 351h8v1h-8zM741 351h12v1h-12zM224 351h21v1h-21zM294 351h12v1h-12zM504 351h5v1h-5zM174 351h20v1h-20zM599 351h13v1h-13zM307 351h6v1h-6zM371 351h9v1h-9zM278 351h12v1h-12zM158 351h8v1h-8zM444 351h14v1h-14zM248 351h14v1h-14zM690 351h14v1h-14zM390 351h3v1h-3zM356 351h13v1h-13zM493 351h6v1h-6zM483 351h8v1h-8zM683 351h5v1h-5zM676 350h3v3h-3zM521 351h16v2h-16zM406 351h10v2h-10zM315 351h7v2h-7zM176 352h18v1h-18zM347 352h1v1h-1zM483 352h17v1h-17zM223 352h23v1h-23zM248 352h16v1h-16zM616 352h3v1h-3zM624 352h4v1h-4zM395 352h7v1h-7zM284 352h8v1h-8zM356 352h24v1h-24zM662 352h3v1h-3zM278 352h4v1h-4zM565 352h15v1h-15zM722 352h5v1h-5zM444 352h15v1h-15zM636 352h2v1h-2zM671 352h2v1h-2zM647 352h8v1h-8zM584 352h4v1h-4zM273 352h1v1h-1zM418 352h4v1h-4zM431 352h7v1h-7zM544 352h6v1h-6zM599 352h12v1h-12zM137 350h6v4h-6zM212 351h5v3h-5zM503 352h7v2h-7zM295 352h18v2h-18zM740 352h14v2h-14zM683 352h4v2h-4zM473 352h4v2h-4zM691 352h13v2h-13zM762 352h3v2h-3zM423 352h6v2h-6zM158 352h4v2h-4zM521 353h4v1h-4zM598 353h13v1h-13zM444 353h19v1h-19zM319 353h3v1h-3zM396 353h6v1h-6zM528 353h9v1h-9zM585 353h3v1h-3zM660 353h6v1h-6zM670 353h10v1h-10zM177 353h16v1h-16zM272 353h9v1h-9zM407 353h14v1h-14zM720 353h7v1h-7zM544 353h7v1h-7zM713 353h1v1h-1zM594 353h1v1h-1zM617 353h3v1h-3zM482 353h19v1h-19zM360 353h20v1h-20zM432 353h6v1h-6zM223 353h45v1h-45zM623 353h6v1h-6zM730 349h3v6h-3zM352 353h2v2h-2zM565 353h14v2h-14zM719 354h7v1h-7zM540 354h2v1h-2zM626 354h4v1h-4zM158 354h3v1h-3zM545 354h6v1h-6zM444 354h21v1h-21zM295 354h17v1h-17zM432 354h4v1h-4zM473 354h5v1h-5zM361 354h20v1h-20zM137 354h1v1h-1zM334 354h5v1h-5zM740 354h16v1h-16zM660 354h20v1h-20zM692 354h3v1h-3zM466 354h2v1h-2zM424 354h5v1h-5zM141 354h1v1h-1zM398 354h4v1h-4zM617 354h6v1h-6zM761 354h4v1h-4zM407 354h13v1h-13zM594 354h19v1h-19zM178 354h16v1h-16zM224 354h44v1h-44zM698 354h6v1h-6zM168 354h2v1h-2zM529 354h8v1h-8zM285 353h8v3h-8zM315 353h3v3h-3zM521 354h3v2h-3zM504 354h5v2h-5zM712 354h3v2h-3zM683 354h3v2h-3zM272 354h8v2h-8zM482 354h7v2h-7zM212 354h6v2h-6zM585 354h4v2h-4zM546 355h6v1h-6zM362 355h23v1h-23zM741 355h16v1h-16zM761 355h3v1h-3zM245 355h14v1h-14zM334 355h6v1h-6zM260 355h8v1h-8zM304 355h8v1h-8zM406 355h7v1h-7zM295 355h5v1h-5zM399 355h4v1h-4zM594 355h20v1h-20zM563 355h5v1h-5zM730 355h2v1h-2zM226 355h11v1h-11zM425 355h4v1h-4zM416 355h4v1h-4zM167 355h4v1h-4zM539 355h4v1h-4zM432 355h3v1h-3zM569 355h11v1h-11zM627 355h4v1h-4zM179 355h15v1h-15zM490 354h6v3h-6zM473 355h6v2h-6zM528 355h6v2h-6zM660 355h21v2h-21zM699 355h5v2h-5zM240 355h3v2h-3zM153 355h8v2h-8zM426 356h4v1h-4zM272 356h7v1h-7zM627 356h6v1h-6zM486 356h3v1h-3zM585 356h6v1h-6zM742 356h2v1h-2zM557 356h2v1h-2zM505 356h4v1h-4zM562 356h4v1h-4zM745 356h13v1h-13zM759 356h6v1h-6zM730 356h3v1h-3zM288 356h5v1h-5zM570 356h11v1h-11zM211 356h8v1h-8zM260 356h7v1h-7zM166 356h6v1h-6zM227 356h10v1h-10zM317 356h1v1h-1zM294 356h5v1h-5zM187 356h7v1h-7zM244 356h13v1h-13zM335 356h6v1h-6zM363 356h22v1h-22zM549 356h2v1h-2zM538 356h5v1h-5zM651 353h4v5h-4zM617 355h5v3h-5zM443 355h26v3h-26zM718 355h7v3h-7zM432 356h2v2h-2zM712 356h4v2h-4zM684 356h3v2h-3zM399 356h13v2h-13zM521 356h2v2h-2zM417 356h2v2h-2zM730 357h4v1h-4zM210 357h14v1h-14zM226 357h10v1h-10zM528 357h15v1h-15zM382 357h3v1h-3zM570 357h5v1h-5zM165 357h8v1h-8zM288 357h11v1h-11zM643 357h1v1h-1zM366 357h13v1h-13zM152 357h10v1h-10zM661 357h9v1h-9zM271 357h7v1h-7zM586 357h6v1h-6zM672 357h9v1h-9zM746 357h19v1h-19zM698 357h6v1h-6zM505 357h5v1h-5zM305 356h7v3h-7zM594 356h21v3h-21zM472 357h7v2h-7zM188 357h7v2h-7zM557 357h9v2h-9zM240 357h17v2h-17zM578 357h3v2h-3zM336 357h6v2h-6zM345 357h2v2h-2zM261 357h5v2h-5zM627 357h10v2h-10zM486 357h10v2h-10zM427 357h3v2h-3zM661 358h8v1h-8zM360 358h1v1h-1zM374 358h3v1h-3zM616 358h6v1h-6zM288 358h12v1h-12zM269 358h8v1h-8zM284 358h2v1h-2zM683 358h4v1h-4zM652 358h4v1h-4zM642 358h3v1h-3zM210 358h25v1h-25zM443 358h25v1h-25zM569 358h6v1h-6zM746 358h11v1h-11zM526 358h17v1h-17zM673 358h8v1h-8zM698 358h7v1h-7zM367 358h5v1h-5zM418 358h1v1h-1zM165 358h10v1h-10zM729 358h6v1h-6zM712 358h14v1h-14zM505 358h11v1h-11zM758 358h7v2h-7zM587 358h6v2h-6zM396 358h17v2h-17zM152 358h9v2h-9zM710 359h25v1h-25zM641 359h5v1h-5zM139 359h2v1h-2zM359 359h2v1h-2zM337 359h5v1h-5zM238 359h20v1h-20zM166 359h10v1h-10zM368 359h4v1h-4zM485 359h10v1h-10zM261 359h6v1h-6zM418 359h2v1h-2zM209 359h26v1h-26zM747 359h1v1h-1zM506 359h11v1h-11zM283 359h3v1h-3zM268 359h8v1h-8zM557 359h10v1h-10zM177 359h3v1h-3zM651 359h5v1h-5zM697 359h8v1h-8zM569 359h5v1h-5zM443 359h24v1h-24zM183 359h3v1h-3zM594 359h28v1h-28zM432 358h1v3h-1zM752 359h4v2h-4zM428 359h1v2h-1zM628 359h10v2h-10zM344 359h4v2h-4zM472 359h6v2h-6zM188 359h6v2h-6zM525 359h18v2h-18zM305 359h8v2h-8zM288 359h13v2h-13zM709 360h27v1h-27zM488 360h7v1h-7zM368 360h5v1h-5zM237 360h13v1h-13zM443 360h23v1h-23zM436 360h2v1h-2zM338 360h4v1h-4zM557 360h11v1h-11zM395 360h19v1h-19zM700 360h5v1h-5zM649 360h8v1h-8zM588 360h4v1h-4zM282 360h4v1h-4zM167 360h20v1h-20zM252 360h6v1h-6zM758 360h6v1h-6zM260 360h16v1h-16zM386 360h3v1h-3zM507 360h9v1h-9zM208 360h27v1h-27zM481 360h2v1h-2zM486 360h1v1h-1zM138 360h4v1h-4zM146 360h15v1h-15zM502 360h3v1h-3zM594 360h16v1h-16zM613 360h8v1h-8zM662 359h6v3h-6zM641 360h6v2h-6zM501 361h4v1h-4zM595 361h14v1h-14zM288 361h12v1h-12zM403 361h11v1h-11zM461 361h4v1h-4zM701 361h4v1h-4zM648 361h10v1h-10zM507 361h7v1h-7zM629 361h9v1h-9zM719 361h18v1h-18zM385 361h5v1h-5zM323 361h2v1h-2zM489 361h7v1h-7zM436 361h1v1h-1zM709 361h1v1h-1zM712 361h6v1h-6zM138 361h23v1h-23zM480 361h4v1h-4zM442 361h17v1h-17zM752 361h11v1h-11zM471 361h7v1h-7zM188 361h5v1h-5zM588 361h3v1h-3zM282 361h3v1h-3zM395 361h5v1h-5zM428 361h5v1h-5zM557 361h12v1h-12zM200 361h1v1h-1zM614 361h6v1h-6zM525 361h17v1h-17zM344 361h5v1h-5zM673 359h14v4h-14zM358 360h3v3h-3zM167 361h3v2h-3zM369 361h6v2h-6zM204 361h44v2h-44zM339 361h3v2h-3zM441 362h17v1h-17zM752 362h10v1h-10zM556 362h13v1h-13zM719 362h13v1h-13zM351 362h1v1h-1zM189 362h3v1h-3zM343 362h6v1h-6zM641 362h17v1h-17zM714 362h4v1h-4zM614 362h5v1h-5zM138 362h24v1h-24zM471 362h2v1h-2zM629 362h1v1h-1zM501 362h12v1h-12zM707 362h1v1h-1zM574 362h2v1h-2zM288 362h11v1h-11zM200 362h2v1h-2zM734 362h6v1h-6zM405 362h10v1h-10zM474 362h3v1h-3zM595 362h9v1h-9zM479 362h5v1h-5zM634 362h4v1h-4zM671 362h1v1h-1zM492 362h5v1h-5zM427 362h6v1h-6zM701 362h5v1h-5zM605 362h4v1h-4zM253 361h23v3h-23zM172 361h15v3h-15zM323 362h3v2h-3zM489 362h2v2h-2zM588 362h2v2h-2zM525 362h10v2h-10zM537 362h5v2h-5zM663 362h4v2h-4zM396 362h4v2h-4zM289 363h2v1h-2zM552 363h3v1h-3zM594 363h9v1h-9zM370 363h5v1h-5zM560 363h10v1h-10zM646 363h13v1h-13zM752 363h9v1h-9zM635 363h3v1h-3zM700 363h8v1h-8zM351 363h3v1h-3zM167 363h2v1h-2zM422 363h11v1h-11zM500 363h13v1h-13zM623 363h7v1h-7zM330 363h1v1h-1zM339 363h10v1h-10zM605 363h5v1h-5zM574 363h1v1h-1zM200 363h47v1h-47zM478 363h6v1h-6zM671 363h16v1h-16zM614 363h3v1h-3zM735 363h6v1h-6zM409 363h7v1h-7zM190 363h2v1h-2zM696 360h2v5h-2zM305 361h9v4h-9zM282 362h2v3h-2zM384 362h6v3h-6zM440 363h18v2h-18zM720 363h11v2h-11zM357 363h3v2h-3zM493 363h3v2h-3zM138 363h25v2h-25zM691 364h3v1h-3zM421 364h11v1h-11zM172 364h14v1h-14zM250 364h25v1h-25zM587 364h3v1h-3zM350 364h5v1h-5zM333 364h1v1h-1zM551 364h4v1h-4zM650 364h4v1h-4zM680 364h8v1h-8zM329 364h3v1h-3zM736 364h6v1h-6zM200 364h5v1h-5zM397 364h3v1h-3zM605 364h11v1h-11zM477 364h8v1h-8zM636 364h1v1h-1zM537 364h4v1h-4zM663 364h3v1h-3zM594 364h7v1h-7zM748 364h13v1h-13zM323 364h4v1h-4zM622 364h8v1h-8zM373 364h2v1h-2zM206 364h41v1h-41zM656 364h3v1h-3zM488 364h4v1h-4zM766 361h1v5h-1zM295 363h5v3h-5zM499 364h13v2h-13zM700 364h9v2h-9zM339 364h8v2h-8zM525 364h9v2h-9zM378 364h2v2h-2zM410 364h6v2h-6zM561 364h10v2h-10zM673 364h4v2h-4zM639 364h2v2h-2zM573 364h2v2h-2zM684 365h4v1h-4zM420 365h12v1h-12zM440 365h21v1h-21zM258 365h17v1h-17zM735 365h8v1h-8zM652 365h1v1h-1zM536 365h3v1h-3zM551 365h1v1h-1zM398 365h2v1h-2zM282 365h1v1h-1zM622 365h9v1h-9zM169 365h17v1h-17zM201 365h3v1h-3zM476 365h9v1h-9zM488 365h8v1h-8zM383 365h7v1h-7zM305 365h8v1h-8zM350 365h10v1h-10zM691 365h7v1h-7zM486 365h1v1h-1zM142 365h14v1h-14zM323 365h13v1h-13zM745 365h17v1h-17zM646 364h3v3h-3zM594 365h6v2h-6zM721 365h10v2h-10zM586 365h4v2h-4zM656 365h4v2h-4zM232 365h9v2h-9zM206 365h23v2h-23zM410 366h5v1h-5zM699 366h10v1h-10zM399 366h2v1h-2zM421 366h2v1h-2zM561 366h15v1h-15zM622 366h10v1h-10zM427 366h5v1h-5zM378 366h3v1h-3zM734 366h28v1h-28zM499 366h12v1h-12zM383 366h8v1h-8zM306 366h7v1h-7zM143 366h13v1h-13zM692 366h6v1h-6zM537 366h1v1h-1zM195 366h2v1h-2zM765 366h2v1h-2zM349 366h11v1h-11zM202 366h1v1h-1zM640 366h1v1h-1zM674 366h3v1h-3zM440 366h22v1h-22zM318 366h29v1h-29zM522 366h12v1h-12zM259 366h16v1h-16zM685 366h2v1h-2zM470 363h3v5h-3zM605 365h9v3h-9zM242 365h5v3h-5zM138 365h1v3h-1zM294 366h6v2h-6zM169 366h11v2h-11zM476 366h12v2h-12zM270 367h1v1h-1zM675 367h1v1h-1zM765 367h1v1h-1zM666 367h1v1h-1zM733 367h3v1h-3zM236 367h5v1h-5zM656 367h8v1h-8zM507 367h4v1h-4zM411 367h3v1h-3zM499 367h6v1h-6zM560 367h16v1h-16zM233 367h2v1h-2zM266 367h2v1h-2zM259 367h5v1h-5zM440 367h23v1h-23zM400 367h2v1h-2zM521 367h11v1h-11zM722 367h1v1h-1zM584 367h6v1h-6zM594 367h7v1h-7zM737 367h25v1h-25zM624 367h8v1h-8zM646 367h2v1h-2zM317 367h43v1h-43zM144 367h11v1h-11zM250 365h6v4h-6zM158 365h5v4h-5zM182 366h3v3h-3zM489 366h7v3h-7zM693 367h16v2h-16zM206 367h22v2h-22zM428 367h4v2h-4zM194 367h8v2h-8zM273 367h2v2h-2zM382 367h9v2h-9zM444 368h1v1h-1zM509 368h2v1h-2zM658 368h9v1h-9zM412 368h2v1h-2zM233 368h15v1h-15zM520 368h11v1h-11zM560 368h7v1h-7zM733 368h2v1h-2zM763 368h3v1h-3zM440 368h2v1h-2zM625 368h8v1h-8zM138 368h2v1h-2zM260 368h4v1h-4zM656 368h1v1h-1zM447 368h16v1h-16zM317 368h38v1h-38zM177 368h3v1h-3zM581 368h10v1h-10zM595 368h6v1h-6zM477 368h11v1h-11zM499 368h5v1h-5zM739 368h23v1h-23zM569 368h8v1h-8zM617 368h3v1h-3zM357 368h3v1h-3zM169 368h7v1h-7zM645 368h3v1h-3zM604 368h11v1h-11zM394 366h1v4h-1zM377 367h4v3h-4zM294 368h7v2h-7zM291 368h2v2h-2zM144 368h12v2h-12zM157 369h5v1h-5zM477 369h10v1h-10zM382 369h10v1h-10zM170 369h5v1h-5zM427 369h5v1h-5zM580 369h13v1h-13zM714 369h1v1h-1zM605 369h15v1h-15zM572 369h5v1h-5zM448 369h15v1h-15zM500 369h4v1h-4zM233 369h17v1h-17zM694 369h15v1h-15zM195 369h8v1h-8zM733 369h1v1h-1zM625 369h7v1h-7zM206 369h14v1h-14zM365 369h1v1h-1zM222 369h7v1h-7zM489 369h6v1h-6zM520 369h9v1h-9zM594 369h7v1h-7zM406 369h2v1h-2zM273 369h3v1h-3zM251 369h6v1h-6zM317 369h37v1h-37zM759 369h7v1h-7zM659 369h8v1h-8zM513 369h3v2h-3zM644 369h4v2h-4zM561 369h6v2h-6zM358 369h2v2h-2zM137 369h3v2h-3zM510 369h1v2h-1zM177 369h8v2h-8zM171 370h4v1h-4zM521 370h7v1h-7zM318 370h7v1h-7zM574 370h3v1h-3zM327 370h16v1h-16zM500 370h5v1h-5zM290 370h3v1h-3zM694 370h16v1h-16zM222 370h2v1h-2zM376 370h5v1h-5zM225 370h4v1h-4zM456 370h7v1h-7zM364 370h3v1h-3zM659 370h6v1h-6zM685 370h2v1h-2zM232 370h18v1h-18zM144 370h18v1h-18zM382 370h2v1h-2zM490 370h5v1h-5zM196 370h7v1h-7zM253 370h4v1h-4zM297 370h4v1h-4zM478 370h9v1h-9zM386 370h5v1h-5zM400 368h3v4h-3zM261 369h3v3h-3zM760 370h5v2h-5zM625 370h6v2h-6zM344 370h1v2h-1zM440 370h2v2h-2zM579 370h23v2h-23zM426 370h5v2h-5zM407 370h1v2h-1zM167 370h1v2h-1zM207 370h13v2h-13zM608 370h12v2h-12zM450 370h5v2h-5zM305 371h1v1h-1zM253 371h3v1h-3zM297 371h3v1h-3zM288 371h6v1h-6zM478 371h2v1h-2zM469 371h2v1h-2zM458 371h5v1h-5zM364 371h4v1h-4zM521 371h6v1h-6zM435 371h3v1h-3zM695 371h15v1h-15zM660 371h5v1h-5zM181 371h4v1h-4zM376 371h8v1h-8zM200 371h2v1h-2zM243 371h6v1h-6zM331 371h12v1h-12zM513 371h4v1h-4zM482 371h4v1h-4zM178 371h1v1h-1zM222 371h7v1h-7zM500 371h6v1h-6zM645 371h3v1h-3zM725 371h2v1h-2zM562 371h5v1h-5zM144 371h11v1h-11zM157 371h2v1h-2zM654 369h2v4h-2zM547 369h2v4h-2zM743 369h14v4h-14zM348 370h5v3h-5zM272 370h5v3h-5zM232 371h7v2h-7zM685 371h4v2h-4zM171 371h3v2h-3zM490 371h6v2h-6zM318 371h6v2h-6zM138 371h2v2h-2zM359 371h1v2h-1zM670 371h2v2h-2zM261 372h4v1h-4zM635 372h1v1h-1zM645 372h2v1h-2zM450 372h4v1h-4zM580 372h7v1h-7zM201 372h1v1h-1zM157 372h1v1h-1zM247 372h1v1h-1zM468 372h3v1h-3zM514 372h3v1h-3zM589 372h12v1h-12zM625 372h5v1h-5zM308 372h2v1h-2zM222 372h8v1h-8zM539 372h2v1h-2zM500 372h7v1h-7zM208 372h12v1h-12zM182 372h2v1h-2zM667 372h1v1h-1zM305 372h2v1h-2zM332 372h13v1h-13zM696 372h15v1h-15zM364 372h5v1h-5zM287 372h8v1h-8zM713 370h5v4h-5zM196 371h1v3h-1zM479 372h1v2h-1zM609 372h12v2h-12zM167 372h2v2h-2zM459 372h3v2h-3zM483 372h3v2h-3zM144 372h9v2h-9zM377 372h6v2h-6zM660 372h4v2h-4zM634 373h3v1h-3zM666 373h7v1h-7zM627 373h3v1h-3zM222 373h3v1h-3zM655 373h1v1h-1zM721 373h1v1h-1zM334 373h12v1h-12zM582 373h4v1h-4zM708 373h3v1h-3zM347 373h6v1h-6zM589 373h9v1h-9zM170 373h4v1h-4zM500 373h4v1h-4zM538 373h3v1h-3zM305 373h5v1h-5zM514 373h2v1h-2zM138 373h1v1h-1zM227 373h3v1h-3zM208 373h11v1h-11zM742 373h15v1h-15zM385 371h6v4h-6zM254 372h1v3h-1zM760 372h6v3h-6zM562 372h6v3h-6zM271 373h6v2h-6zM696 373h2v2h-2zM469 373h2v2h-2zM646 373h1v2h-1zM702 373h5v2h-5zM548 373h1v2h-1zM450 373h3v2h-3zM505 373h3v2h-3zM364 373h6v2h-6zM317 373h7v2h-7zM311 374h2v1h-2zM660 374h12v1h-12zM447 374h2v1h-2zM708 374h9v1h-9zM196 374h2v1h-2zM305 374h3v1h-3zM484 374h2v1h-2zM500 374h1v1h-1zM720 374h1v1h-1zM742 374h7v1h-7zM377 374h3v1h-3zM345 374h8v1h-8zM228 374h2v1h-2zM416 374h1v1h-1zM537 374h4v1h-4zM589 374h8v1h-8zM751 374h6v1h-6zM208 374h2v1h-2zM144 374h8v1h-8zM327 371h3v5h-3zM426 372h4v4h-4zM724 372h4v4h-4zM434 372h9v4h-9zM182 373h1v3h-1zM374 373h2v3h-2zM233 373h5v3h-5zM287 373h9v3h-9zM634 374h6v2h-6zM247 374h1v2h-1zM211 374h8v2h-8zM479 374h2v2h-2zM396 374h4v2h-4zM334 374h10v2h-10zM752 375h4v1h-4zM697 375h1v1h-1zM271 375h3v1h-3zM536 375h4v1h-4zM534 375h1v1h-1zM365 375h6v1h-6zM447 375h5v1h-5zM276 375h1v1h-1zM711 375h5v1h-5zM377 375h4v1h-4zM345 375h9v1h-9zM415 375h3v1h-3zM385 375h5v1h-5zM702 375h8v1h-8zM590 375h7v1h-7zM419 375h3v1h-3zM656 375h13v1h-13zM229 375h1v1h-1zM733 375h1v1h-1zM559 375h10v1h-10zM316 375h8v1h-8zM670 375h2v1h-2zM505 375h2v1h-2zM254 375h2v1h-2zM521 372h5v5h-5zM684 373h6v4h-6zM261 373h5v4h-5zM222 374h2v3h-2zM608 374h13v3h-13zM459 374h2v3h-2zM197 375h1v2h-1zM760 375h7v2h-7zM161 375h1v2h-1zM143 375h9v2h-9zM270 376h4v1h-4zM253 376h3v1h-3zM212 376h8v1h-8zM246 376h3v1h-3zM182 376h3v1h-3zM229 376h2v1h-2zM634 376h5v1h-5zM187 376h2v1h-2zM203 376h4v1h-4zM656 376h12v1h-12zM533 376h7v1h-7zM712 376h3v1h-3zM726 376h2v1h-2zM732 376h2v1h-2zM506 376h1v1h-1zM702 376h7v1h-7zM385 376h4v1h-4zM474 376h2v1h-2zM250 376h2v1h-2zM478 376h3v1h-3zM234 376h8v1h-8zM491 373h5v5h-5zM167 374h8v4h-8zM310 375h3v3h-3zM469 375h3v3h-3zM315 376h8v2h-8zM425 376h5v2h-5zM288 376h8v2h-8zM326 376h4v2h-4zM591 376h6v2h-6zM415 376h8v2h-8zM447 376h3v2h-3zM395 376h5v2h-5zM760 377h5v1h-5zM455 377h1v1h-1zM182 377h10v1h-10zM473 377h3v1h-3zM142 377h10v1h-10zM533 377h2v1h-2zM478 377h5v1h-5zM404 377h1v1h-1zM459 377h1v1h-1zM712 377h1v1h-1zM701 377h8v1h-8zM270 377h3v1h-3zM201 377h7v1h-7zM685 377h7v1h-7zM732 377h3v1h-3zM649 377h2v1h-2zM576 377h2v1h-2zM598 377h2v1h-2zM536 377h5v1h-5zM197 377h2v1h-2zM572 377h1v1h-1zM607 377h13v1h-13zM384 377h5v1h-5zM367 376h4v3h-4zM334 376h21v3h-21zM559 376h11v3h-11zM246 377h10v2h-10zM228 377h4v2h-4zM213 377h12v2h-12zM657 377h10v2h-10zM727 377h1v2h-1zM262 377h5v2h-5zM522 377h3v2h-3zM235 377h7v2h-7zM303 378h1v1h-1zM556 378h1v1h-1zM310 378h12v1h-12zM575 378h5v1h-5zM403 378h2v1h-2zM326 378h5v1h-5zM759 378h6v1h-6zM166 378h10v1h-10zM501 378h3v1h-3zM537 378h5v1h-5zM672 378h1v1h-1zM141 378h11v1h-11zM415 378h15v1h-15zM469 378h7v1h-7zM648 378h3v1h-3zM384 378h9v1h-9zM455 378h2v1h-2zM289 378h6v1h-6zM183 378h9v1h-9zM615 378h5v1h-5zM571 378h2v1h-2zM703 378h5v1h-5zM394 378h6v1h-6zM628 374h2v6h-2zM742 375h6v5h-6zM374 376h3v4h-3zM678 377h2v3h-2zM160 377h2v3h-2zM443 377h2v3h-2zM607 378h6v2h-6zM532 378h3v2h-3zM490 378h6v2h-6zM269 378h4v2h-4zM591 378h9v2h-9zM700 378h1v2h-1zM478 378h6v2h-6zM214 379h11v1h-11zM327 379h4v1h-4zM616 379h3v1h-3zM366 379h5v1h-5zM672 379h2v1h-2zM334 379h3v1h-3zM236 379h5v1h-5zM648 379h4v1h-4zM455 379h4v1h-4zM402 379h3v1h-3zM425 379h5v1h-5zM350 379h5v1h-5zM471 379h5v1h-5zM416 379h8v1h-8zM623 379h1v1h-1zM290 379h5v1h-5zM246 379h11v1h-11zM501 379h5v1h-5zM141 379h10v1h-10zM228 379h5v1h-5zM184 379h8v1h-8zM537 379h7v1h-7zM706 379h1v1h-1zM574 379h7v1h-7zM511 379h3v1h-3zM555 379h18v1h-18zM166 379h11v1h-11zM378 376h3v5h-3zM686 378h7v3h-7zM197 378h12v3h-12zM731 378h4v3h-4zM758 379h7v2h-7zM263 379h3v2h-3zM657 379h9v2h-9zM383 379h16v2h-16zM338 379h11v2h-11zM425 380h3v1h-3zM174 380h3v1h-3zM215 380h10v1h-10zM472 380h4v1h-4zM623 380h2v1h-2zM531 380h4v1h-4zM246 380h12v1h-12zM629 380h1v1h-1zM228 380h6v1h-6zM542 380h1v1h-1zM335 380h1v1h-1zM511 380h4v1h-4zM161 380h1v1h-1zM373 380h3v1h-3zM444 380h2v1h-2zM416 380h7v1h-7zM350 380h4v1h-4zM650 380h3v1h-3zM566 380h15v1h-15zM590 380h9v1h-9zM290 380h4v1h-4zM276 376h2v6h-2zM448 378h2v4h-2zM309 379h13v3h-13zM726 379h2v3h-2zM468 379h2v3h-2zM453 380h6v2h-6zM365 380h6v2h-6zM401 380h4v2h-4zM184 380h9v2h-9zM742 380h7v2h-7zM166 380h6v2h-6zM611 380h2v2h-2zM269 380h3v2h-3zM489 380h6v2h-6zM378 381h4v1h-4zM198 381h6v1h-6zM216 381h2v1h-2zM219 381h4v1h-4zM290 381h3v1h-3zM444 381h3v1h-3zM587 381h12v1h-12zM526 381h2v1h-2zM264 381h2v1h-2zM650 381h4v1h-4zM245 381h13v1h-13zM622 381h3v1h-3zM224 381h2v1h-2zM530 381h5v1h-5zM360 381h2v1h-2zM686 381h8v1h-8zM722 381h1v1h-1zM572 381h10v1h-10zM337 381h12v1h-12zM508 381h1v1h-1zM752 376h3v7h-3zM434 376h6v7h-6zM328 380h3v3h-3zM141 380h8v3h-8zM607 380h2v3h-2zM706 380h2v3h-2zM699 380h2v3h-2zM477 380h8v3h-8zM537 380h4v3h-4zM550 380h1v3h-1zM671 380h4v3h-4zM383 381h15v2h-15zM731 381h5v2h-5zM472 381h3v2h-3zM417 381h6v2h-6zM568 381h3v2h-3zM758 381h8v2h-8zM377 382h5v1h-5zM526 382h3v1h-3zM220 382h3v1h-3zM573 382h26v1h-26zM534 382h1v1h-1zM469 382h2v1h-2zM494 382h1v1h-1zM296 382h1v1h-1zM185 382h8v1h-8zM452 382h7v1h-7zM530 382h3v1h-3zM289 382h4v1h-4zM324 382h1v1h-1zM137 382h1v1h-1zM244 382h14v1h-14zM449 382h1v1h-1zM721 382h2v1h-2zM309 382h8v1h-8zM501 380h6v4h-6zM659 381h7v3h-7zM512 381h3v3h-3zM174 381h4v3h-4zM318 382h4v2h-4zM623 382h2v2h-2zM743 382h7v2h-7zM364 382h7v2h-7zM168 382h4v2h-4zM360 382h3v2h-3zM225 382h1v2h-1zM508 382h2v2h-2zM725 382h3v2h-3zM752 383h4v1h-4zM452 383h8v1h-8zM477 383h7v1h-7zM600 383h1v1h-1zM699 383h1v1h-1zM421 383h2v1h-2zM757 383h9v1h-9zM641 383h2v1h-2zM324 383h2v1h-2zM596 383h3v1h-3zM309 383h7v1h-7zM243 383h10v1h-10zM220 383h2v1h-2zM288 383h5v1h-5zM464 383h2v1h-2zM721 383h3v1h-3zM377 383h12v1h-12zM264 383h1v1h-1zM569 383h2v1h-2zM525 383h8v1h-8zM185 383h9v1h-9zM635 377h4v8h-4zM237 380h2v5h-2zM555 380h9v5h-9zM650 382h5v3h-5zM166 382h1v3h-1zM612 382h2v3h-2zM400 382h5v3h-5zM444 382h4v3h-4zM327 383h4v2h-4zM142 383h7v2h-7zM534 383h7v2h-7zM495 383h2v2h-2zM705 383h4v2h-4zM549 383h3v2h-3zM606 383h3v2h-3zM670 383h6v2h-6zM469 383h6v2h-6zM325 384h1v1h-1zM512 384h4v1h-4zM684 384h1v1h-1zM451 384h9v1h-9zM721 384h7v1h-7zM568 384h2v1h-2zM681 384h1v1h-1zM597 384h1v1h-1zM422 384h2v1h-2zM500 384h7v1h-7zM753 384h13v1h-13zM186 384h9v1h-9zM287 384h6v1h-6zM168 384h3v1h-3zM220 384h1v1h-1zM600 384h2v1h-2zM263 384h2v1h-2zM319 384h4v1h-4zM242 384h10v1h-10zM712 384h2v1h-2zM359 384h12v1h-12zM615 384h2v1h-2zM309 384h8v1h-8zM522 379h2v7h-2zM350 381h3v5h-3zM230 381h4v5h-4zM372 381h4v5h-4zM295 383h3v3h-3zM393 383h5v3h-5zM525 384h7v2h-7zM174 384h5v2h-5zM463 384h4v2h-4zM509 384h1v2h-1zM660 384h5v2h-5zM744 384h7v2h-7zM279 384h2v2h-2zM378 384h11v2h-11zM546 385h6v1h-6zM504 385h3v1h-3zM495 385h3v1h-3zM511 385h5v1h-5zM359 385h11v1h-11zM355 385h1v1h-1zM499 385h3v1h-3zM400 385h6v1h-6zM263 385h3v1h-3zM141 385h8v1h-8zM680 385h5v1h-5zM567 385h3v1h-3zM165 385h1v1h-1zM242 385h4v1h-4zM167 385h4v1h-4zM310 385h7v1h-7zM286 385h7v1h-7zM650 385h6v1h-6zM236 385h3v1h-3zM720 385h9v1h-9zM186 385h2v1h-2zM219 385h2v1h-2zM606 385h2v1h-2zM336 382h12v5h-12zM490 382h2v5h-2zM573 383h21v4h-21zM731 383h6v4h-6zM704 385h6v2h-6zM469 385h5v2h-5zM422 385h5v2h-5zM555 385h10v2h-10zM711 385h4v2h-4zM320 385h3v2h-3zM669 385h7v2h-7zM754 385h8v2h-8zM535 385h6v2h-6zM400 386h7v1h-7zM369 386h7v1h-7zM294 386h4v1h-4zM545 386h7v1h-7zM495 386h6v1h-6zM680 386h6v1h-6zM359 386h2v1h-2zM219 386h1v1h-1zM701 386h1v1h-1zM241 386h4v1h-4zM727 386h2v1h-2zM744 386h8v1h-8zM279 386h3v1h-3zM410 386h1v1h-1zM349 386h3v1h-3zM393 386h6v1h-6zM462 386h5v1h-5zM236 386h4v1h-4zM665 386h1v1h-1zM362 386h6v1h-6zM378 386h5v1h-5zM263 386h5v1h-5zM649 386h7v1h-7zM607 386h1v1h-1zM566 386h3v1h-3zM412 386h3v1h-3zM720 386h6v1h-6zM355 386h2v1h-2zM717 386h1v1h-1zM687 382h7v6h-7zM199 382h5v6h-5zM435 383h4v5h-4zM254 383h4v5h-4zM618 384h2v4h-2zM190 385h5v3h-5zM763 385h3v3h-3zM451 385h2v3h-2zM325 385h5v3h-5zM612 385h4v3h-4zM454 385h6v3h-6zM140 386h4v2h-4zM174 386h6v2h-6zM165 386h6v2h-6zM310 386h8v2h-8zM145 386h4v2h-4zM385 386h4v2h-4zM522 386h9v2h-9zM182 387h1v1h-1zM333 387h2v1h-2zM665 387h2v1h-2zM679 387h7v1h-7zM700 387h2v1h-2zM727 387h10v1h-10zM401 387h7v1h-7zM495 387h5v1h-5zM412 387h4v1h-4zM227 387h1v1h-1zM696 387h1v1h-1zM409 387h2v1h-2zM743 387h18v1h-18zM648 387h9v1h-9zM294 387h5v1h-5zM305 387h2v1h-2zM537 387h4v1h-4zM156 387h1v1h-1zM489 387h3v1h-3zM572 387h22v1h-22zM362 387h5v1h-5zM370 387h6v1h-6zM137 383h2v6h-2zM479 384h3v5h-3zM660 386h4v3h-4zM378 387h4v2h-4zM556 387h13v2h-13zM394 387h5v2h-5zM546 387h5v2h-5zM263 387h6v2h-6zM704 387h5v2h-5zM470 387h3v2h-3zM354 387h2v2h-2zM337 387h15v2h-15zM711 387h15v2h-15zM391 388h1v1h-1zM305 388h1v1h-1zM666 388h1v1h-1zM700 388h3v1h-3zM454 388h5v1h-5zM489 388h2v1h-2zM434 388h5v1h-5zM370 388h5v1h-5zM140 388h3v1h-3zM402 388h6v1h-6zM496 388h4v1h-4zM253 388h5v1h-5zM572 388h11v1h-11zM740 388h1v1h-1zM475 388h2v1h-2zM411 388h5v1h-5zM611 388h5v1h-5zM523 388h8v1h-8zM174 388h7v1h-7zM680 388h1v1h-1zM682 388h4v1h-4zM451 388h1v1h-1zM333 388h3v1h-3zM310 388h7v1h-7zM762 388h3v1h-3zM654 388h3v1h-3zM293 388h6v1h-6zM155 388h2v1h-2zM510 386h6v4h-6zM230 386h3v4h-3zM669 387h8v3h-8zM423 387h4v3h-4zM359 387h1v3h-1zM461 387h6v3h-6zM321 387h2v3h-2zM236 387h9v3h-9zM325 388h4v2h-4zM198 388h6v2h-6zM165 388h5v2h-5zM145 388h5v2h-5zM743 388h17v2h-17zM386 388h3v2h-3zM191 388h4v2h-4zM547 389h4v1h-4zM740 389h2v1h-2zM276 389h1v1h-1zM354 389h3v1h-3zM395 389h4v1h-4zM711 389h14v1h-14zM378 389h3v1h-3zM700 389h8v1h-8zM174 389h8v1h-8zM556 389h12v1h-12zM160 389h2v1h-2zM311 389h6v1h-6zM666 389h2v1h-2zM454 389h6v1h-6zM443 385h5v6h-5zM248 385h3v6h-3zM634 385h4v6h-4zM286 386h6v5h-6zM280 387h3v4h-3zM728 388h9v3h-9zM227 388h2v3h-2zM492 388h1v3h-1zM687 388h10v3h-10zM154 389h3v2h-3zM497 389h3v2h-3zM762 389h2v2h-2zM403 389h5v2h-5zM433 389h6v2h-6zM369 389h6v2h-6zM293 389h7v2h-7zM488 389h2v2h-2zM137 389h6v2h-6zM683 389h2v2h-2zM338 389h14v2h-14zM669 390h9v1h-9zM230 390h4v1h-4zM197 390h7v1h-7zM145 390h6v1h-6zM423 390h8v1h-8zM175 390h7v1h-7zM557 390h11v1h-11zM191 390h3v1h-3zM325 390h3v1h-3zM741 390h18v1h-18zM454 390h13v1h-13zM378 390h2v1h-2zM312 390h5v1h-5zM387 390h2v1h-2zM667 390h1v1h-1zM321 390h1v1h-1zM223 390h2v1h-2zM505 386h2v6h-2zM584 388h11v4h-11zM607 388h1v4h-1zM253 389h6v3h-6zM263 389h7v3h-7zM470 389h7v3h-7zM527 389h4v3h-4zM523 389h3v3h-3zM611 389h6v3h-6zM654 389h4v3h-4zM572 389h10v3h-10zM332 389h4v3h-4zM396 390h3v2h-3zM353 390h7v2h-7zM159 390h4v2h-4zM547 390h3v2h-3zM275 390h2v2h-2zM700 390h7v2h-7zM511 390h6v2h-6zM248 391h4v1h-4zM684 391h1v1h-1zM231 391h3v1h-3zM761 391h3v1h-3zM338 391h1v1h-1zM637 391h1v1h-1zM190 391h4v1h-4zM750 391h9v1h-9zM368 391h7v1h-7zM634 391h2v1h-2zM196 391h8v1h-8zM146 391h1v1h-1zM286 391h5v1h-5zM148 391h4v1h-4zM341 391h11v1h-11zM324 391h4v1h-4zM453 391h8v1h-8zM423 391h16v1h-16zM281 391h2v1h-2zM292 391h8v1h-8zM741 391h5v1h-5zM155 391h2v1h-2zM387 391h4v1h-4zM640 384h4v9h-4zM362 388h4v5h-4zM538 388h3v5h-3zM648 388h5v5h-5zM661 389h2v4h-2zM166 390h4v3h-4zM711 390h13v3h-13zM558 391h10v2h-10zM463 391h4v2h-4zM227 391h1v2h-1zM728 391h8v2h-8zM223 391h3v2h-3zM748 391h1v2h-1zM487 391h3v2h-3zM687 391h9v2h-9zM292 392h1v1h-1zM579 392h3v1h-3zM700 392h6v1h-6zM572 392h6v1h-6zM751 392h8v1h-8zM155 392h1v1h-1zM367 392h9v1h-9zM295 392h5v1h-5zM583 392h2v1h-2zM282 392h1v1h-1zM511 392h7v1h-7zM452 392h9v1h-9zM546 392h4v1h-4zM247 392h12v1h-12zM611 392h2v1h-2zM506 392h1v1h-1zM286 392h4v1h-4zM627 392h1v1h-1zM341 392h19v1h-19zM323 392h4v1h-4zM614 392h3v1h-3zM637 392h2v1h-2zM599 385h4v9h-4zM411 389h6v5h-6zM236 390h8v4h-8zM496 391h4v3h-4zM443 391h6v3h-6zM492 391h2v3h-2zM403 391h6v3h-6zM176 391h6v3h-6zM159 392h5v2h-5zM424 392h16v2h-16zM230 392h4v2h-4zM332 392h3v2h-3zM741 392h3v2h-3zM195 392h9v2h-9zM761 392h2v2h-2zM274 392h3v2h-3zM470 392h6v2h-6zM387 392h5v2h-5zM263 392h8v2h-8zM380 393h1v1h-1zM747 393h2v1h-2zM463 393h5v1h-5zM687 393h8v1h-8zM711 393h12v1h-12zM452 393h2v1h-2zM546 393h5v1h-5zM341 393h5v1h-5zM559 393h8v1h-8zM572 393h5v1h-5zM580 393h5v1h-5zM166 393h3v1h-3zM637 393h6v1h-6zM362 393h14v1h-14zM615 393h2v1h-2zM626 393h2v1h-2zM751 393h9v1h-9zM538 393h2v1h-2zM670 391h8v4h-8zM149 392h4v3h-4zM586 392h2v3h-2zM655 392h4v3h-4zM591 392h6v3h-6zM523 392h8v3h-8zM699 393h7v2h-7zM487 393h2v2h-2zM282 393h2v2h-2zM348 393h11v2h-11zM287 393h4v2h-4zM455 393h6v2h-6zM383 393h2v2h-2zM648 393h6v2h-6zM247 393h3v2h-3zM251 393h9v2h-9zM279 393h1v2h-1zM206 394h1v1h-1zM305 394h1v1h-1zM559 394h3v1h-3zM537 394h3v1h-3zM424 394h13v1h-13zM451 394h3v1h-3zM751 394h5v1h-5zM544 394h8v1h-8zM331 394h4v1h-4zM387 394h6v1h-6zM712 394h10v1h-10zM160 394h9v1h-9zM438 394h2v1h-2zM275 394h2v1h-2zM342 394h4v1h-4zM462 394h14v1h-14zM689 394h4v1h-4zM380 394h2v1h-2zM757 394h4v1h-4zM747 394h3v1h-3zM363 394h13v1h-13zM177 394h2v1h-2zM563 394h4v1h-4zM296 393h4v3h-4zM144 393h1v3h-1zM223 393h4v3h-4zM727 393h7v3h-7zM512 393h6v3h-6zM680 393h1v3h-1zM170 394h2v2h-2zM599 394h5v2h-5zM443 394h1v2h-1zM446 394h3v2h-3zM263 394h9v2h-9zM492 394h9v2h-9zM741 394h2v2h-2zM229 394h16v2h-16zM182 395h1v1h-1zM318 395h1v1h-1zM349 395h10v1h-10zM343 395h3v1h-3zM365 395h9v1h-9zM486 395h3v1h-3zM161 395h8v1h-8zM560 395h7v1h-7zM651 395h3v1h-3zM537 395h2v1h-2zM424 395h12v1h-12zM455 395h21v1h-21zM255 395h5v1h-5zM524 395h7v1h-7zM248 395h2v1h-2zM438 395h4v1h-4zM592 395h4v1h-4zM251 395h3v1h-3zM648 395h2v1h-2zM313 391h3v6h-3zM396 392h2v5h-2zM190 392h3v5h-3zM322 393h5v4h-5zM403 394h14v3h-14zM638 394h5v3h-5zM195 394h8v3h-8zM581 394h3v3h-3zM288 395h3v2h-3zM330 395h5v2h-5zM451 395h2v2h-2zM655 395h6v2h-6zM380 395h5v2h-5zM747 395h9v2h-9zM446 396h4v1h-4zM424 396h7v1h-7zM466 396h10v1h-10zM297 396h3v1h-3zM647 396h3v1h-3zM506 396h3v1h-3zM157 396h1v1h-1zM433 396h3v1h-3zM486 396h2v1h-2zM222 396h5v1h-5zM742 396h1v1h-1zM560 396h6v1h-6zM318 396h2v1h-2zM228 396h17v1h-17zM479 389h2v9h-2zM137 391h5v7h-5zM543 395h9v3h-9zM669 395h8v3h-8zM150 395h3v3h-3zM592 396h3v2h-3zM492 396h10v2h-10zM256 396h4v2h-4zM262 396h11v2h-11zM365 396h8v2h-8zM652 396h2v2h-2zM600 396h5v2h-5zM439 396h5v2h-5zM456 396h9v2h-9zM622 396h2v2h-2zM726 396h7v2h-7zM446 397h7v1h-7zM195 397h7v1h-7zM226 397h19v1h-19zM222 397h3v1h-3zM483 397h1v1h-1zM638 397h2v1h-2zM306 397h1v1h-1zM433 397h2v1h-2zM485 397h3v1h-3zM467 397h9v1h-9zM615 394h3v5h-3zM626 394h3v5h-3zM205 395h2v4h-2zM713 395h8v4h-8zM275 395h5v4h-5zM161 396h7v3h-7zM170 396h3v3h-3zM747 397h8v2h-8zM219 397h1v2h-1zM656 397h5v2h-5zM312 397h3v2h-3zM380 397h6v2h-6zM395 397h3v2h-3zM189 397h4v2h-4zM641 397h3v2h-3zM157 397h2v2h-2zM330 397h6v2h-6zM479 398h1v1h-1zM455 398h10v1h-10zM467 398h8v1h-8zM194 398h8v1h-8zM499 398h3v1h-3zM222 398h2v1h-2zM591 398h3v1h-3zM256 398h12v1h-12zM310 398h1v1h-1zM682 398h1v1h-1zM447 398h6v1h-6zM492 398h5v1h-5zM573 394h4v6h-4zM691 395h2v5h-2zM758 395h3v5h-3zM182 396h4v4h-4zM525 396h6v4h-6zM289 397h2v3h-2zM505 397h4v3h-4zM581 397h2v3h-2zM424 397h6v3h-6zM561 397h5v3h-5zM647 397h2v3h-2zM444 398h1v2h-1zM439 398h4v2h-4zM306 398h2v2h-2zM726 398h6v2h-6zM550 398h2v2h-2zM622 398h3v2h-3zM150 398h4v2h-4zM669 398h7v2h-7zM599 398h6v2h-6zM227 398h18v2h-18zM255 399h9v1h-9zM478 399h2v1h-2zM162 399h1v1h-1zM394 399h2v1h-2zM397 399h1v1h-1zM626 399h4v1h-4zM682 399h2v1h-2zM747 399h7v1h-7zM663 399h1v1h-1zM379 399h1v1h-1zM447 399h7v1h-7zM309 399h6v1h-6zM499 399h2v1h-2zM615 399h2v1h-2zM420 399h1v1h-1zM590 399h3v1h-3zM493 399h3v1h-3zM455 399h4v1h-4zM698 395h8v6h-8zM390 395h3v6h-3zM248 396h6v5h-6zM536 396h3v5h-3zM343 396h4v5h-4zM401 397h16v4h-16zM270 398h4v3h-4zM482 398h6v3h-6zM431 398h4v3h-4zM542 398h6v3h-6zM137 398h6v3h-6zM275 399h6v2h-6zM657 399h4v2h-4zM713 399h5v2h-5zM170 399h4v2h-4zM642 399h2v2h-2zM189 399h13v2h-13zM329 399h8v2h-8zM757 400h3v1h-3zM448 400h10v1h-10zM439 400h7v1h-7zM181 400h5v1h-5zM494 400h1v1h-1zM227 400h17v1h-17zM477 400h3v1h-3zM551 400h1v1h-1zM420 400h2v1h-2zM646 400h3v1h-3zM599 400h7v1h-7zM581 400h1v1h-1zM394 400h1v1h-1zM662 400h2v1h-2zM424 400h5v1h-5zM622 400h8v1h-8zM614 400h3v1h-3zM246 400h1v1h-1zM283 395h2v7h-2zM513 396h5v6h-5zM318 397h9v5h-9zM366 398h5v4h-5zM460 399h5v3h-5zM204 399h3v3h-3zM467 399h7v3h-7zM265 399h3v3h-3zM218 399h6v3h-6zM573 400h5v2h-5zM526 400h5v2h-5zM690 400h3v2h-3zM378 400h2v2h-2zM289 400h3v2h-3zM498 400h3v2h-3zM505 400h5v2h-5zM306 400h9v2h-9zM476 401h5v1h-5zM439 401h19v1h-19zM542 401h5v1h-5zM622 401h4v1h-4zM141 401h2v1h-2zM482 401h8v1h-8zM698 401h7v1h-7zM657 401h3v1h-3zM599 401h6v1h-6zM643 401h6v1h-6zM381 399h5v4h-5zM164 399h3v4h-3zM157 399h3v4h-3zM669 400h5v3h-5zM255 400h8v3h-8zM725 400h6v3h-6zM149 400h5v3h-5zM561 400h4v3h-4zM627 401h3v2h-3zM228 401h16v2h-16zM334 401h3v2h-3zM389 401h3v2h-3zM329 401h4v2h-4zM714 401h3v2h-3zM535 401h3v2h-3zM498 402h2v1h-2zM204 402h4v1h-4zM503 402h1v1h-1zM264 402h3v1h-3zM470 402h4v1h-4zM512 402h6v1h-6zM319 402h8v1h-8zM542 402h4v1h-4zM599 402h1v1h-1zM622 402h3v1h-3zM568 402h1v1h-1zM525 402h6v1h-6zM284 402h1v1h-1zM508 402h2v1h-2zM377 402h3v1h-3zM644 402h5v1h-5zM213 402h1v1h-1zM698 402h6v1h-6zM505 402h2v1h-2zM460 402h9v1h-9zM350 396h10v8h-10zM766 397h1v7h-1zM589 400h4v4h-4zM746 400h8v4h-8zM343 401h3v3h-3zM179 401h8v3h-8zM189 401h12v3h-12zM613 401h4v3h-4zM431 401h5v3h-5zM762 401h1v3h-1zM271 401h10v3h-10zM476 402h14v2h-14zM690 402h4v2h-4zM216 402h8v2h-8zM289 402h4v2h-4zM573 402h6v2h-6zM602 402h2v2h-2zM142 402h2v2h-2zM528 403h3v1h-3zM497 403h3v1h-3zM509 403h2v1h-2zM687 403h2v1h-2zM255 403h12v1h-12zM460 403h8v1h-8zM320 403h7v1h-7zM330 403h8v1h-8zM512 403h3v1h-3zM503 403h3v1h-3zM229 403h14v1h-14zM621 403h4v1h-4zM541 403h5v1h-5zM724 403h7v1h-7zM376 403h10v1h-10zM516 403h2v1h-2zM682 400h3v5h-3zM757 401h2v4h-2zM401 401h28v4h-28zM169 401h5v4h-5zM137 401h3v4h-3zM305 402h10v3h-10zM446 402h12v3h-12zM548 402h1v3h-1zM657 402h2v3h-2zM287 403h1v2h-1zM534 403h3v2h-3zM164 403h2v2h-2zM389 403h4v2h-4zM148 403h6v2h-6zM560 403h5v2h-5zM272 404h1v1h-1zM602 404h1v1h-1zM723 404h7v1h-7zM539 404h6v1h-6zM431 404h6v1h-6zM762 404h2v1h-2zM588 404h5v1h-5zM290 404h3v1h-3zM344 404h1v1h-1zM497 404h2v1h-2zM230 404h12v1h-12zM216 404h7v1h-7zM274 404h6v1h-6zM765 404h2v1h-2zM517 404h1v1h-1zM439 402h5v4h-5zM212 403h2v3h-2zM698 403h5v3h-5zM568 403h2v3h-2zM157 403h4v3h-4zM552 403h2v3h-2zM668 403h6v3h-6zM193 404h7v2h-7zM509 404h5v2h-5zM612 404h5v2h-5zM504 404h2v2h-2zM351 404h9v2h-9zM255 404h11v2h-11zM687 404h7v2h-7zM143 404h1v2h-1zM460 404h7v2h-7zM299 404h1v2h-1zM621 404h3v2h-3zM745 404h8v2h-8zM529 404h2v2h-2zM589 405h4v1h-4zM173 405h1v1h-1zM230 405h10v1h-10zM148 405h8v1h-8zM304 405h11v1h-11zM397 405h1v1h-1zM433 405h4v1h-4zM164 405h8v1h-8zM682 405h4v1h-4zM757 405h1v1h-1zM561 405h4v1h-4zM534 405h2v1h-2zM216 405h3v1h-3zM246 401h7v6h-7zM661 401h3v6h-3zM366 402h4v5h-4zM644 403h6v4h-6zM713 403h4v4h-4zM205 403h3v4h-3zM477 404h13v3h-13zM341 404h2v3h-2zM320 404h8v3h-8zM179 404h9v3h-9zM190 404h2v3h-2zM220 405h3v2h-3zM348 405h2v2h-2zM547 405h3v2h-3zM539 405h5v2h-5zM720 405h10v2h-10zM287 405h6v2h-6zM431 405h1v2h-1zM390 405h3v2h-3zM401 405h27v2h-27zM439 406h1v1h-1zM551 406h2v1h-2zM164 406h7v1h-7zM682 406h12v1h-12zM353 406h7v1h-7zM443 406h1v1h-1zM256 406h10v1h-10zM529 406h7v1h-7zM744 406h9v1h-9zM212 406h1v1h-1zM509 406h4v1h-4zM202 406h2v1h-2zM433 406h5v1h-5zM569 406h2v1h-2zM304 406h12v1h-12zM470 403h3v5h-3zM525 403h2v5h-2zM331 404h7v4h-7zM375 404h10v4h-10zM573 404h8v4h-8zM586 405h2v3h-2zM447 405h11v3h-11zM138 405h2v3h-2zM497 405h1v3h-1zM148 406h5v2h-5zM216 406h2v2h-2zM193 406h6v2h-6zM698 406h4v2h-4zM756 406h2v2h-2zM154 406h7v2h-7zM622 406h2v2h-2zM590 406h3v2h-3zM460 406h6v2h-6zM298 406h2v2h-2zM569 407h1v1h-1zM341 407h3v1h-3zM400 407h28v1h-28zM202 407h6v1h-6zM720 407h11v1h-11zM177 407h4v1h-4zM530 407h6v1h-6zM694 407h1v1h-1zM433 407h6v1h-6zM220 407h2v1h-2zM165 407h5v1h-5zM744 407h7v1h-7zM304 407h13v1h-13zM661 407h2v1h-2zM475 407h1v1h-1zM191 407h1v1h-1zM562 406h3v3h-3zM609 406h8v3h-8zM668 406h5v3h-5zM369 407h1v2h-1zM182 407h7v2h-7zM665 407h2v2h-2zM645 407h6v2h-6zM347 407h3v2h-3zM547 407h6v2h-6zM713 407h5v2h-5zM256 407h3v2h-3zM260 407h6v2h-6zM508 407h4v2h-4zM353 407h8v2h-8zM675 408h1v1h-1zM660 408h3v1h-3zM452 408h5v1h-5zM694 408h2v1h-2zM591 408h1v1h-1zM138 408h3v1h-3zM221 408h1v1h-1zM340 408h4v1h-4zM176 408h5v1h-5zM471 408h2v1h-2zM421 408h7v1h-7zM720 408h4v1h-4zM447 408h4v1h-4zM437 408h3v1h-3zM403 408h16v1h-16zM193 408h5v1h-5zM697 408h5v1h-5zM586 408h3v1h-3zM304 408h9v1h-9zM331 408h8v1h-8zM274 405h4v5h-4zM231 406h9v4h-9zM518 406h1v4h-1zM396 406h2v4h-2zM319 407h9v3h-9zM287 407h7v3h-7zM247 407h7v3h-7zM391 407h2v3h-2zM365 407h1v3h-1zM525 408h1v2h-1zM386 408h1v2h-1zM433 408h3v2h-3zM297 408h2v2h-2zM148 408h13v2h-13zM475 408h2v2h-2zM726 408h5v2h-5zM201 408h6v2h-6zM675 409h4v1h-4zM304 409h5v1h-5zM162 409h1v1h-1zM668 409h4v1h-4zM452 409h4v1h-4zM602 409h3v1h-3zM448 409h3v1h-3zM713 409h11v1h-11zM146 409h1v1h-1zM664 409h2v1h-2zM406 409h12v1h-12zM192 409h6v1h-6zM261 409h5v1h-5zM347 409h2v1h-2zM182 409h8v1h-8zM594 409h1v1h-1zM646 409h5v1h-5zM175 409h5v1h-5zM256 409h2v1h-2zM762 405h5v6h-5zM478 407h11v4h-11zM538 407h5v4h-5zM503 408h1v3h-1zM166 408h4v3h-4zM623 408h1v3h-1zM400 408h2v3h-2zM573 408h9v3h-9zM530 408h7v3h-7zM311 409h2v2h-2zM694 409h8v2h-8zM609 409h10v2h-10zM139 409h2v2h-2zM660 409h2v2h-2zM563 409h2v2h-2zM547 409h5v2h-5zM507 409h5v2h-5zM192 410h5v1h-5zM247 410h11v1h-11zM669 410h3v1h-3zM396 410h3v1h-3zM288 410h6v1h-6zM146 410h14v1h-14zM183 410h8v1h-8zM391 410h3v1h-3zM303 410h6v1h-6zM593 410h3v1h-3zM319 410h8v1h-8zM407 410h11v1h-11zM646 410h6v1h-6zM433 410h2v1h-2zM474 410h3v1h-3zM448 410h2v1h-2zM231 410h10v1h-10zM268 410h1v1h-1zM162 410h2v1h-2zM494 410h2v1h-2zM386 410h2v1h-2zM714 410h11v1h-11zM726 410h4v1h-4zM656 405h3v7h-3zM682 407h10v5h-10zM314 408h3v4h-3zM375 408h9v4h-9zM215 408h2v4h-2zM403 409h2v3h-2zM331 409h13v3h-13zM438 409h2v3h-2zM471 409h1v3h-1zM585 409h4v3h-4zM200 410h6v2h-6zM453 410h2v2h-2zM296 410h3v2h-3zM675 410h5v2h-5zM523 410h2v2h-2zM263 410h2v2h-2zM546 411h6v1h-6zM396 411h6v1h-6zM761 411h6v1h-6zM502 411h2v1h-2zM507 411h4v1h-4zM303 411h3v1h-3zM409 411h9v1h-9zM318 411h9v1h-9zM387 411h1v1h-1zM137 411h4v1h-4zM580 411h3v1h-3zM709 411h1v1h-1zM150 411h10v1h-10zM694 411h9v1h-9zM474 411h15v1h-15zM449 411h1v1h-1zM161 411h9v1h-9zM307 411h2v1h-2zM573 411h5v1h-5zM460 408h5v5h-5zM755 408h2v5h-2zM742 408h9v5h-9zM602 410h4v3h-4zM663 410h3v3h-3zM616 411h3v2h-3zM267 411h2v2h-2zM637 411h1v2h-1zM563 411h3v2h-3zM609 411h6v2h-6zM248 411h9v2h-9zM647 411h5v2h-5zM232 411h9v2h-9zM530 411h11v2h-11zM391 411h2v2h-2zM312 411h1v2h-1zM556 412h1v1h-1zM480 412h9v1h-9zM545 412h7v1h-7zM573 412h4v1h-4zM675 412h6v1h-6zM263 412h3v1h-3zM761 412h5v1h-5zM200 412h5v1h-5zM397 412h6v1h-6zM214 412h3v1h-3zM314 412h2v1h-2zM708 412h2v1h-2zM302 412h3v1h-3zM543 412h1v1h-1zM296 412h2v1h-2zM421 409h8v5h-8zM274 410h5v4h-5zM146 411h3v3h-3zM493 411h3v3h-3zM289 411h5v3h-5zM439 412h1v2h-1zM580 412h10v2h-10zM506 412h5v2h-5zM169 412h2v2h-2zM337 412h7v2h-7zM150 412h16v2h-16zM387 412h2v2h-2zM409 412h8v2h-8zM683 412h9v2h-9zM695 412h8v2h-8zM318 412h8v2h-8zM657 412h2v2h-2zM564 413h2v1h-2zM391 413h1v1h-1zM295 413h3v1h-3zM675 413h7v1h-7zM213 413h3v1h-3zM574 413h3v1h-3zM610 413h5v1h-5zM742 413h8v1h-8zM708 413h3v1h-3zM625 413h2v1h-2zM550 413h2v1h-2zM199 413h6v1h-6zM760 413h6v1h-6zM480 413h10v1h-10zM363 413h1v1h-1zM647 413h4v1h-4zM301 413h4v1h-4zM232 413h11v1h-11zM433 411h1v4h-1zM714 411h16v4h-16zM183 411h13v4h-13zM669 411h4v4h-4zM523 412h3v3h-3zM376 412h8v3h-8zM502 412h1v3h-1zM453 412h1v3h-1zM312 413h4v2h-4zM530 413h10v2h-10zM733 413h2v2h-2zM601 413h5v2h-5zM460 413h4v2h-4zM248 413h8v2h-8zM264 413h4v2h-4zM396 413h7v2h-7zM760 414h5v1h-5zM420 414h9v1h-9zM300 414h5v1h-5zM709 414h2v1h-2zM492 414h4v1h-4zM657 414h1v1h-1zM271 414h2v1h-2zM611 414h3v1h-3zM680 414h8v1h-8zM696 414h7v1h-7zM743 414h6v1h-6zM648 414h3v1h-3zM290 414h8v1h-8zM519 414h1v1h-1zM275 414h7v1h-7zM147 414h1v1h-1zM689 414h3v1h-3zM409 414h7v1h-7zM593 411h4v5h-4zM331 412h5v4h-5zM474 412h5v4h-5zM543 413h6v3h-6zM367 413h1v3h-1zM149 414h4v2h-4zM481 414h1v2h-1zM337 414h8v2h-8zM551 414h1v2h-1zM624 414h3v2h-3zM387 414h5v2h-5zM232 414h12v2h-12zM684 415h4v1h-4zM248 415h4v1h-4zM290 415h7v1h-7zM732 415h4v1h-4zM264 415h3v1h-3zM680 415h3v1h-3zM376 415h9v1h-9zM299 415h6v1h-6zM621 415h2v1h-2zM417 415h1v1h-1zM714 415h7v1h-7zM409 415h6v1h-6zM760 415h4v1h-4zM270 415h3v1h-3zM600 415h6v1h-6zM722 415h8v1h-8zM518 415h2v1h-2zM461 415h3v1h-3zM419 415h9v1h-9zM444 415h2v1h-2zM531 415h9v1h-9zM690 415h2v1h-2zM696 415h6v1h-6zM743 415h5v1h-5zM353 409h7v8h-7zM175 410h4v7h-4zM755 413h3v4h-3zM617 413h2v4h-2zM662 413h4v4h-4zM318 414h7v3h-7zM169 414h3v3h-3zM483 414h7v3h-7zM513 414h2v3h-2zM363 414h2v3h-2zM155 414h11v3h-11zM611 415h4v2h-4zM396 415h6v2h-6zM529 415h1v2h-1zM492 415h3v2h-3zM523 415h2v2h-2zM501 416h1v1h-1zM217 416h1v1h-1zM377 416h8v1h-8zM578 416h1v1h-1zM715 416h6v1h-6zM441 416h1v1h-1zM298 416h7v1h-7zM690 416h3v1h-3zM388 416h4v1h-4zM731 416h4v1h-4zM744 416h4v1h-4zM759 416h5v1h-5zM331 416h12v1h-12zM722 416h7v1h-7zM497 416h1v1h-1zM680 416h4v1h-4zM621 416h6v1h-6zM674 414h5v4h-5zM581 414h10v4h-10zM505 414h5v4h-5zM199 414h5v4h-5zM648 415h4v3h-4zM275 415h8v3h-8zM312 415h2v3h-2zM183 415h12v3h-12zM531 416h8v2h-8zM344 416h1v2h-1zM290 416h6v2h-6zM444 416h3v2h-3zM518 416h3v2h-3zM569 416h2v2h-2zM231 416h13v2h-13zM461 416h2v2h-2zM265 416h2v2h-2zM417 416h11v2h-11zM620 417h7v1h-7zM170 417h2v1h-2zM723 417h6v1h-6zM755 417h8v1h-8zM396 417h5v1h-5zM335 417h7v1h-7zM403 417h4v1h-4zM745 417h3v1h-3zM155 417h3v1h-3zM483 417h12v1h-12zM719 417h2v1h-2zM377 417h9v1h-9zM174 417h4v1h-4zM330 417h3v1h-3zM441 417h2v1h-2zM353 417h8v1h-8zM563 414h3v5h-3zM213 414h2v5h-2zM669 415h3v4h-3zM248 416h3v3h-3zM542 416h7v3h-7zM409 416h4v3h-4zM363 417h3v2h-3zM500 417h2v2h-2zM389 417h3v2h-3zM512 417h3v2h-3zM159 417h7v2h-7zM715 417h2v2h-2zM497 417h2v2h-2zM730 417h5v2h-5zM528 417h1v2h-1zM336 418h1v1h-1zM619 418h8v1h-8zM504 418h6v1h-6zM403 418h5v1h-5zM183 418h11v1h-11zM538 418h1v1h-1zM265 418h1v1h-1zM377 418h10v1h-10zM553 418h1v1h-1zM416 418h11v1h-11zM531 418h5v1h-5zM441 418h6v1h-6zM154 418h4v1h-4zM275 418h4v1h-4zM648 418h5v1h-5zM568 418h3v1h-3zM745 418h2v1h-2zM200 418h4v1h-4zM253 415h3v5h-3zM685 416h3v4h-3zM697 416h5v4h-5zM577 417h2v3h-2zM318 417h6v3h-6zM681 417h3v3h-3zM298 417h6v3h-6zM217 417h2v3h-2zM522 417h3v3h-3zM663 417h3v3h-3zM719 418h1v2h-1zM673 418h6v2h-6zM397 418h4v2h-4zM230 418h15v2h-15zM313 418h1v2h-1zM280 418h3v2h-3zM290 418h5v2h-5zM517 418h4v2h-4zM723 418h5v2h-5zM483 418h11v2h-11zM647 419h6v1h-6zM745 419h1v1h-1zM619 419h7v1h-7zM368 419h1v1h-1zM424 419h3v1h-3zM378 419h9v1h-9zM403 419h7v1h-7zM656 419h1v1h-1zM364 419h3v1h-3zM411 419h2v1h-2zM541 419h8v1h-8zM416 419h7v1h-7zM440 419h7v1h-7zM715 419h1v1h-1zM390 419h3v1h-3zM527 419h2v1h-2zM670 419h2v1h-2zM276 419h2v1h-2zM199 419h5v1h-5zM473 416h6v5h-6zM149 416h3v5h-3zM269 416h4v5h-4zM691 417h2v4h-2zM704 417h1v4h-1zM613 417h2v4h-2zM756 418h6v3h-6zM351 418h5v3h-5zM170 418h6v3h-6zM339 418h3v3h-3zM580 418h11v3h-11zM504 419h12v2h-12zM553 419h2v2h-2zM497 419h5v2h-5zM145 419h1v2h-1zM523 420h1v1h-1zM646 420h4v1h-4zM299 420h5v1h-5zM440 420h8v1h-8zM577 420h1v1h-1zM527 420h3v1h-3zM619 420h6v1h-6zM722 420h7v1h-7zM277 420h1v1h-1zM229 420h16v1h-16zM137 412h3v10h-3zM600 416h7v6h-7zM730 419h4v3h-4zM154 419h12v3h-12zM182 419h12v3h-12zM563 419h8v3h-8zM670 420h17v2h-17zM218 420h2v2h-2zM280 420h4v2h-4zM517 420h5v2h-5zM199 420h6v2h-6zM651 420h2v2h-2zM379 420h9v2h-9zM456 420h3v2h-3zM254 420h2v2h-2zM579 421h3v1h-3zM373 421h1v1h-1zM287 421h1v1h-1zM527 421h4v1h-4zM145 421h2v1h-2zM439 421h9v1h-9zM148 421h4v1h-4zM583 421h8v1h-8zM691 421h1v1h-1zM229 421h10v1h-10zM300 421h3v1h-3zM756 421h5v1h-5zM721 421h8v1h-8zM497 421h19v1h-19zM241 421h5v1h-5zM594 416h3v7h-3zM330 418h2v5h-2zM532 419h4v4h-4zM429 419h2v4h-2zM248 419h2v4h-2zM398 420h3v3h-3zM698 420h2v3h-2zM321 420h3v3h-3zM483 420h10v3h-10zM364 420h5v3h-5zM391 420h2v3h-2zM307 420h2v3h-2zM224 420h1v3h-1zM290 420h4v3h-4zM702 421h3v2h-3zM352 421h3v2h-3zM618 421h6v2h-6zM645 421h5v2h-5zM576 421h2v2h-2zM474 421h5v2h-5zM280 422h5v1h-5zM229 422h9v1h-9zM300 422h2v1h-2zM599 422h8v1h-8zM210 422h1v1h-1zM670 422h16v1h-16zM652 422h1v1h-1zM217 422h3v1h-3zM579 422h2v1h-2zM200 422h5v1h-5zM757 422h4v1h-4zM154 422h1v1h-1zM438 422h10v1h-10zM240 422h6v1h-6zM287 422h2v1h-2zM709 415h3v9h-3zM359 418h3v6h-3zM416 420h6v4h-6zM656 420h2v4h-2zM554 421h2v3h-2zM627 421h1v3h-1zM528 422h3v2h-3zM497 422h3v2h-3zM137 422h2v2h-2zM585 422h6v2h-6zM502 422h20v2h-20zM564 422h7v2h-7zM382 422h6v2h-6zM255 422h2v2h-2zM304 422h1v2h-1zM457 422h2v2h-2zM583 422h1v2h-1zM156 422h10v2h-10zM201 423h5v1h-5zM217 423h4v1h-4zM399 423h2v1h-2zM363 423h6v1h-6zM671 423h15v1h-15zM436 423h12v1h-12zM280 423h13v1h-13zM483 423h9v1h-9zM474 423h3v1h-3zM532 423h5v1h-5zM697 423h8v1h-8zM198 423h1v1h-1zM575 423h6v1h-6zM306 423h3v1h-3zM321 423h4v1h-4zM403 420h6v5h-6zM170 421h5v4h-5zM524 422h2v3h-2zM721 422h13v3h-13zM373 422h2v3h-2zM228 423h10v2h-10zM427 423h4v2h-4zM758 423h3v2h-3zM595 423h12v2h-12zM353 423h2v2h-2zM210 423h2v2h-2zM240 423h9v2h-9zM498 424h2v1h-2zM528 424h9v1h-9zM304 424h5v1h-5zM436 424h5v1h-5zM283 424h10v1h-10zM554 424h3v1h-3zM584 424h7v1h-7zM709 424h4v1h-4zM656 424h1v1h-1zM442 424h5v1h-5zM322 424h3v1h-3zM502 424h19v1h-19zM197 424h2v1h-2zM399 424h3v1h-3zM626 424h2v1h-2zM202 424h4v1h-4zM696 424h9v1h-9zM359 424h6v1h-6zM663 420h4v6h-4zM318 420h2v6h-2zM345 420h1v6h-1zM269 421h3v5h-3zM182 422h11v4h-11zM331 423h1v3h-1zM216 424h5v2h-5zM256 424h1v2h-1zM457 424h3v2h-3zM484 424h8v2h-8zM574 424h7v2h-7zM595 425h11v1h-11zM625 425h3v1h-3zM360 425h4v1h-4zM235 425h3v1h-3zM525 425h1v1h-1zM721 425h4v1h-4zM353 425h1v1h-1zM727 425h7v1h-7zM529 425h8v1h-8zM551 425h1v1h-1zM323 425h2v1h-2zM553 425h4v1h-4zM399 425h10v1h-10zM588 425h3v1h-3zM541 420h9v7h-9zM614 421h1v6h-1zM340 421h2v6h-2zM618 423h5v4h-5zM382 424h7v3h-7zM480 424h2v3h-2zM564 424h6v3h-6zM366 424h3v3h-3zM671 424h16v3h-16zM653 425h1v2h-1zM695 425h10v2h-10zM197 425h1v2h-1zM709 425h5v2h-5zM241 425h7v2h-7zM141 425h2v2h-2zM435 425h6v2h-6zM706 425h2v2h-2zM501 425h20v2h-20zM442 425h4v2h-4zM728 426h6v1h-6zM323 426h3v1h-3zM458 426h2v1h-2zM595 426h7v1h-7zM485 426h7v1h-7zM182 426h6v1h-6zM551 426h7v1h-7zM348 426h1v1h-1zM590 426h1v1h-1zM525 426h3v1h-3zM190 426h3v1h-3zM235 426h4v1h-4zM145 422h7v6h-7zM644 423h6v5h-6zM156 424h11v4h-11zM475 424h2v4h-2zM305 425h4v3h-4zM169 425h6v3h-6zM227 425h7v3h-7zM210 425h3v3h-3zM427 425h3v3h-3zM759 425h1v3h-1zM603 426h3v2h-3zM720 426h5v2h-5zM270 426h3v2h-3zM400 426h9v2h-9zM480 427h3v1h-3zM242 427h6v1h-6zM366 427h2v1h-2zM500 427h11v1h-11zM449 427h2v1h-2zM551 427h4v1h-4zM608 427h1v1h-1zM595 427h6v1h-6zM347 427h2v1h-2zM435 427h5v1h-5zM196 427h1v1h-1zM382 427h8v1h-8zM356 427h1v1h-1zM236 427h3v1h-3zM458 427h3v1h-3zM339 427h3v1h-3zM416 424h5v5h-5zM373 425h3v4h-3zM574 426h6v3h-6zM625 426h2v3h-2zM379 426h1v3h-1zM530 426h7v3h-7zM563 427h7v2h-7zM542 427h8v2h-8zM590 427h2v2h-2zM323 427h5v2h-5zM370 427h1v2h-1zM512 427h8v2h-8zM556 427h2v2h-2zM618 427h4v2h-4zM672 427h15v2h-15zM728 427h7v2h-7zM160 428h7v1h-7zM479 428h4v1h-4zM449 428h3v1h-3zM365 428h3v1h-3zM599 428h2v1h-2zM652 428h1v1h-1zM719 428h6v1h-6zM242 428h5v1h-5zM236 428h4v1h-4zM595 428h3v1h-3zM474 428h3v1h-3zM271 428h1v1h-1zM169 428h7v1h-7zM250 428h2v1h-2zM604 428h2v1h-2zM750 428h1v1h-1zM284 425h7v5h-7zM361 426h3v4h-3zM664 426h3v4h-3zM216 426h6v4h-6zM443 427h3v3h-3zM608 428h2v2h-2zM304 428h5v2h-5zM228 428h6v2h-6zM156 428h2v2h-2zM356 428h2v2h-2zM459 428h3v2h-3zM500 428h10v2h-10zM383 428h7v2h-7zM561 429h9v1h-9zM323 429h6v1h-6zM397 429h1v1h-1zM732 429h3v1h-3zM738 429h1v1h-1zM728 429h2v1h-2zM624 429h3v1h-3zM530 429h8v1h-8zM594 429h4v1h-4zM543 429h7v1h-7zM591 429h2v1h-2zM202 425h5v6h-5zM584 425h3v6h-3zM141 427h3v4h-3zM695 427h19v4h-19zM183 427h5v4h-5zM613 427h2v4h-2zM426 428h4v3h-4zM400 428h8v3h-8zM434 428h6v3h-6zM600 429h1v2h-1zM300 429h2v2h-2zM379 429h2v2h-2zM274 429h1v2h-1zM478 429h5v2h-5zM573 429h7v2h-7zM719 429h3v2h-3zM365 429h2v2h-2zM249 429h4v2h-4zM243 429h3v2h-3zM619 429h3v2h-3zM160 429h8v2h-8zM723 429h2v2h-2zM420 429h1v2h-1zM373 429h2v2h-2zM474 429h2v2h-2zM749 429h2v2h-2zM215 430h7v1h-7zM732 430h4v1h-4zM737 430h3v1h-3zM459 430h4v1h-4zM265 430h1v1h-1zM560 430h10v1h-10zM322 430h7v1h-7zM285 430h6v1h-6zM509 430h1v1h-1zM444 430h2v1h-2zM669 430h1v1h-1zM362 430h2v1h-2zM137 424h1v8h-1zM190 427h2v5h-2zM209 428h4v4h-4zM551 428h3v4h-3zM643 428h6v4h-6zM651 429h2v3h-2zM500 430h8v2h-8zM591 430h7v2h-7zM628 430h1v2h-1zM530 430h9v2h-9zM606 430h4v2h-4zM664 430h2v2h-2zM228 430h5v2h-5zM728 430h1v2h-1zM356 430h1v2h-1zM624 430h2v2h-2zM155 430h2v2h-2zM322 431h8v1h-8zM184 431h4v1h-4zM286 431h6v1h-6zM299 431h3v1h-3zM473 431h3v1h-3zM572 431h9v1h-9zM445 431h2v1h-2zM249 431h5v1h-5zM373 431h1v1h-1zM745 431h1v1h-1zM378 431h3v1h-3zM141 431h2v1h-2zM619 431h4v1h-4zM719 431h6v1h-6zM469 431h1v1h-1zM359 431h1v1h-1zM161 431h7v1h-7zM219 431h3v1h-3zM749 431h3v1h-3zM695 431h20v1h-20zM363 431h1v1h-1zM668 431h2v1h-2zM526 427h2v6h-2zM146 428h6v5h-6zM346 428h3v5h-3zM513 429h6v4h-6zM236 429h5v4h-5zM449 429h4v4h-4zM170 429h6v4h-6zM396 430h2v3h-2zM304 430h4v3h-4zM384 430h6v3h-6zM544 430h6v3h-6zM584 431h2v2h-2zM425 431h5v2h-5zM215 431h3v2h-3zM613 431h3v2h-3zM201 431h6v2h-6zM565 431h5v2h-5zM636 431h1v2h-1zM242 431h4v2h-4zM228 432h4v1h-4zM472 432h4v1h-4zM551 432h2v1h-2zM326 432h5v1h-5zM185 432h2v1h-2zM648 432h1v1h-1zM155 432h1v1h-1zM571 432h10v1h-10zM377 432h4v1h-4zM209 432h5v1h-5zM363 432h2v1h-2zM454 432h1v1h-1zM290 432h2v1h-2zM322 432h3v1h-3zM446 432h2v1h-2zM468 432h2v1h-2zM694 432h21v1h-21zM748 432h4v1h-4zM137 432h6v1h-6zM249 432h6v1h-6zM745 432h2v1h-2zM411 432h1v1h-1zM486 427h6v7h-6zM339 428h4v6h-4zM420 431h2v3h-2zM478 431h4v3h-4zM732 431h8v3h-8zM667 432h3v2h-3zM220 432h3v2h-3zM620 432h9v2h-9zM162 432h6v2h-6zM297 432h4v2h-4zM664 432h1v2h-1zM606 432h5v2h-5zM322 433h2v1h-2zM425 433h6v1h-6zM693 433h22v1h-22zM146 433h5v1h-5zM137 433h5v1h-5zM186 433h1v1h-1zM578 433h3v1h-3zM446 433h9v1h-9zM385 433h5v1h-5zM566 433h4v1h-4zM571 433h6v1h-6zM514 433h5v1h-5zM544 433h9v1h-9zM433 431h7v4h-7zM460 431h5v4h-5zM401 431h6v4h-6zM286 432h3v3h-3zM591 432h6v3h-6zM531 432h9v3h-9zM189 432h1v3h-1zM229 433h3v2h-3zM745 433h7v2h-7zM208 433h10v2h-10zM154 433h2v2h-2zM376 433h5v2h-5zM170 433h7v2h-7zM249 433h7v2h-7zM394 433h4v2h-4zM200 433h2v2h-2zM319 433h1v2h-1zM410 433h2v2h-2zM344 433h5v2h-5zM297 434h3v1h-3zM545 434h7v1h-7zM420 434h3v1h-3zM162 434h7v1h-7zM566 434h11v1h-11zM321 434h3v1h-3zM386 434h4v1h-4zM607 434h5v1h-5zM731 434h10v1h-10zM692 434h24v1h-24zM426 434h5v1h-5zM673 429h14v7h-14zM501 432h7v4h-7zM643 432h2v4h-2zM358 432h2v4h-2zM720 432h3v4h-3zM328 433h3v3h-3zM614 433h2v3h-2zM203 433h4v3h-4zM291 433h4v3h-4zM236 433h9v3h-9zM579 434h3v2h-3zM220 434h2v2h-2zM484 434h8v2h-8zM146 434h3v2h-3zM158 434h1v2h-1zM697 435h19v1h-19zM165 435h9v1h-9zM161 435h2v1h-2zM249 435h8v1h-8zM287 435h1v1h-1zM296 435h4v1h-4zM190 435h1v1h-1zM386 435h1v1h-1zM692 435h4v1h-4zM200 435h1v1h-1zM402 435h6v1h-6zM319 435h5v1h-5zM744 435h8v1h-8zM153 435h3v1h-3zM409 435h2v1h-2zM208 435h9v1h-9zM375 435h6v1h-6zM433 435h8v1h-8zM607 435h4v1h-4zM389 435h1v1h-1zM394 435h3v1h-3zM461 435h5v1h-5zM265 431h2v6h-2zM468 433h7v4h-7zM276 433h1v4h-1zM514 434h4v3h-4zM479 434h3v3h-3zM137 434h4v3h-4zM667 434h4v3h-4zM368 435h2v2h-2zM523 435h1v2h-1zM530 435h10v2h-10zM545 435h1v2h-1zM181 435h2v2h-2zM567 435h10v2h-10zM427 435h5v2h-5zM281 435h2v2h-2zM730 435h11v2h-11zM229 435h4v2h-4zM547 435h5v2h-5zM175 435h2v2h-2zM203 436h14v1h-14zM241 436h4v1h-4zM615 436h1v1h-1zM743 436h10v1h-10zM289 436h1v1h-1zM320 436h4v1h-4zM402 436h9v1h-9zM236 436h4v1h-4zM434 436h7v1h-7zM381 436h1v1h-1zM461 436h6v1h-6zM153 436h6v1h-6zM579 436h4v1h-4zM495 436h1v1h-1zM357 436h3v1h-3zM291 436h9v1h-9zM502 436h6v1h-6zM673 436h13v1h-13zM329 436h2v1h-2zM375 436h5v1h-5zM166 436h8v1h-8zM416 429h2v9h-2zM559 431h5v7h-5zM305 433h3v5h-3zM446 434h8v4h-8zM339 434h3v4h-3zM343 435h6v3h-6zM420 435h4v3h-4zM393 436h4v2h-4zM484 436h3v2h-3zM698 436h17v2h-17zM161 436h1v2h-1zM391 437h1v1h-1zM289 437h11v1h-11zM479 437h4v1h-4zM530 437h16v1h-16zM357 437h2v1h-2zM381 437h2v1h-2zM138 437h3v1h-3zM362 437h1v1h-1zM428 437h4v1h-4zM265 437h1v1h-1zM403 437h8v1h-8zM567 437h16v1h-16zM435 437h6v1h-6zM225 437h1v1h-1zM320 437h3v1h-3zM514 437h5v1h-5zM730 437h23v1h-23zM203 437h6v1h-6zM236 437h9v1h-9zM494 437h2v1h-2zM621 434h7v5h-7zM726 434h2v5h-2zM248 436h9v3h-9zM720 436h4v3h-4zM489 436h3v3h-3zM180 437h3v2h-3zM228 437h6v2h-6zM673 437h2v2h-2zM175 437h3v2h-3zM548 437h4v2h-4zM676 437h10v2h-10zM504 437h4v2h-4zM167 437h7v2h-7zM708 438h7v1h-7zM429 438h3v1h-3zM356 438h3v1h-3zM203 438h5v1h-5zM436 438h5v1h-5zM306 438h2v1h-2zM224 438h3v1h-3zM514 438h6v1h-6zM416 438h8v1h-8zM343 438h5v1h-5zM632 438h1v1h-1zM654 438h1v1h-1zM494 438h3v1h-3zM559 438h4v1h-4zM479 438h8v1h-8zM138 438h4v1h-4zM530 438h7v1h-7zM648 433h2v7h-2zM642 436h3v4h-3zM588 436h1v4h-1zM608 436h3v4h-3zM190 436h2v4h-2zM152 437h7v3h-7zM280 437h3v3h-3zM462 437h13v3h-13zM375 437h2v3h-2zM443 438h11v2h-11zM699 438h7v2h-7zM382 438h1v2h-1zM316 438h1v2h-1zM338 438h4v2h-4zM742 438h11v2h-11zM403 438h7v2h-7zM160 438h2v2h-2zM730 438h11v2h-11zM236 438h3v2h-3zM204 439h4v1h-4zM559 439h3v1h-3zM343 439h6v1h-6zM707 439h8v1h-8zM505 439h4v1h-4zM355 439h4v1h-4zM247 439h10v1h-10zM167 439h11v1h-11zM725 439h3v1h-3zM350 439h1v1h-1zM631 439h2v1h-2zM719 439h5v1h-5zM672 439h3v1h-3zM139 439h3v1h-3zM185 434h2v7h-2zM766 435h1v6h-1zM146 436h2v5h-2zM691 436h5v5h-5zM219 436h3v5h-3zM211 437h5v4h-5zM666 437h5v4h-5zM288 438h12v3h-12zM568 438h15v3h-15zM320 438h2v3h-2zM224 439h10v2h-10zM514 439h7v2h-7zM437 439h4v2h-4zM274 439h1v2h-1zM489 439h8v2h-8zM527 439h1v2h-1zM604 439h1v2h-1zM415 439h9v2h-9zM549 439h3v2h-3zM180 439h4v2h-4zM306 439h3v2h-3zM168 440h11v1h-11zM350 440h3v1h-3zM236 440h2v1h-2zM190 440h1v1h-1zM719 440h9v1h-9zM699 440h6v1h-6zM672 440h4v1h-4zM729 440h7v1h-7zM706 440h8v1h-8zM508 440h2v1h-2zM279 440h5v1h-5zM140 440h2v1h-2zM247 440h9v1h-9zM151 440h5v1h-5zM557 440h3v1h-3zM404 440h8v1h-8zM338 440h11v1h-11zM592 435h4v7h-4zM368 437h3v5h-3zM523 437h2v5h-2zM240 438h5v4h-5zM391 438h6v4h-6zM600 439h1v3h-1zM677 439h9v3h-9zM429 439h2v3h-2zM157 440h5v2h-5zM758 440h1v2h-1zM375 440h1v2h-1zM443 440h12v2h-12zM737 440h4v2h-4zM463 440h12v2h-12zM742 440h12v2h-12zM247 441h8v1h-8zM556 441h4v1h-4zM415 441h7v1h-7zM569 441h13v1h-13zM194 441h2v1h-2zM219 441h4v1h-4zM718 441h17v1h-17zM338 441h7v1h-7zM279 441h6v1h-6zM347 441h6v1h-6zM168 441h19v1h-19zM690 441h6v1h-6zM405 441h7v1h-7zM514 441h8v1h-8zM197 441h2v1h-2zM211 441h4v1h-4zM489 441h9v1h-9zM437 441h5v1h-5zM274 441h2v1h-2zM232 441h5v1h-5zM361 438h2v5h-2zM531 439h6v4h-6zM620 439h8v4h-8zM641 440h4v3h-4zM609 440h2v3h-2zM630 440h3v3h-3zM710 441h4v2h-4zM509 441h1v2h-1zM189 441h2v2h-2zM549 441h2v2h-2zM152 441h4v2h-4zM306 441h4v2h-4zM527 441h2v2h-2zM149 442h1v1h-1zM424 442h1v1h-1zM348 442h5v1h-5zM467 442h8v1h-8zM414 442h8v1h-8zM430 442h1v1h-1zM278 442h4v1h-4zM556 442h3v1h-3zM569 442h3v1h-3zM592 442h5v1h-5zM717 442h18v1h-18zM737 442h5v1h-5zM762 442h1v1h-1zM437 442h18v1h-18zM573 442h9v1h-9zM759 442h1v1h-1zM463 442h3v1h-3zM514 442h11v1h-11zM283 442h2v1h-2zM339 442h6v1h-6zM539 438h7v6h-7zM479 439h7v5h-7zM355 440h3v4h-3zM382 440h2v4h-2zM205 440h3v4h-3zM505 440h2v4h-2zM224 441h7v3h-7zM666 441h10v3h-10zM140 441h3v3h-3zM288 441h11v3h-11zM239 442h16v2h-16zM194 442h5v2h-5zM368 442h4v2h-4zM652 442h1v2h-1zM234 442h3v2h-3zM168 442h18v2h-18zM273 442h3v2h-3zM743 442h11v2h-11zM405 442h3v2h-3zM210 442h5v2h-5zM409 442h4v2h-4zM303 443h1v1h-1zM717 443h16v1h-16zM514 443h10v1h-10zM592 443h6v1h-6zM762 443h2v1h-2zM549 443h1v1h-1zM339 443h5v1h-5zM610 443h1v1h-1zM414 443h7v1h-7zM569 443h2v1h-2zM572 443h10v1h-10zM348 443h6v1h-6zM711 443h3v1h-3zM626 443h2v1h-2zM700 441h4v4h-4zM488 442h10v3h-10zM691 442h5v3h-5zM390 442h7v3h-7zM531 443h7v2h-7zM738 443h4v2h-4zM438 443h17v2h-17zM283 443h3v2h-3zM467 443h7v2h-7zM630 443h4v2h-4zM278 443h3v2h-3zM619 443h6v2h-6zM305 443h5v2h-5zM462 443h4v2h-4zM369 444h1v1h-1zM572 444h3v1h-3zM302 444h2v1h-2zM371 444h1v1h-1zM610 444h2v1h-2zM405 444h2v1h-2zM478 444h8v1h-8zM717 444h3v1h-3zM667 444h2v1h-2zM187 444h2v1h-2zM515 444h5v1h-5zM539 444h2v1h-2zM169 444h17v1h-17zM273 444h4v1h-4zM626 444h3v1h-3zM743 444h12v1h-12zM140 444h2v1h-2zM592 444h7v1h-7zM288 444h10v1h-10zM762 444h3v1h-3zM209 444h3v1h-3zM721 444h11v1h-11zM316 440h2v6h-2zM706 441h2v5h-2zM641 443h5v3h-5zM555 443h4v3h-4zM436 443h1v3h-1zM424 443h2v3h-2zM195 444h4v2h-4zM205 444h2v2h-2zM711 444h2v2h-2zM409 444h12v2h-12zM506 444h2v2h-2zM735 444h1v2h-1zM348 444h10v2h-10zM670 444h6v2h-6zM234 444h2v2h-2zM611 445h1v1h-1zM462 445h3v1h-3zM208 445h4v1h-4zM721 445h10v1h-10zM693 445h6v1h-6zM458 445h1v1h-1zM761 445h5v1h-5zM359 445h1v1h-1zM283 445h15v1h-15zM701 445h3v1h-3zM531 445h9v1h-9zM661 441h2v6h-2zM678 442h7v5h-7zM148 443h2v4h-2zM382 444h1v3h-1zM568 444h2v3h-2zM576 444h6v3h-6zM619 445h5v2h-5zM471 445h3v2h-3zM439 445h16v2h-16zM477 445h21v2h-21zM572 445h2v2h-2zM468 445h2v2h-2zM739 445h17v2h-17zM515 445h4v2h-4zM627 445h7v2h-7zM404 445h2v2h-2zM349 446h7v1h-7zM316 446h1v1h-1zM640 446h6v1h-6zM706 446h3v1h-3zM205 446h7v1h-7zM372 446h1v1h-1zM693 446h11v1h-11zM457 446h2v1h-2zM235 446h1v1h-1zM670 446h5v1h-5zM604 441h2v7h-2zM218 442h5v6h-5zM158 442h4v6h-4zM526 443h3v5h-3zM521 444h3v4h-3zM239 444h15v4h-15zM651 444h2v4h-2zM225 444h6v4h-6zM272 445h9v3h-9zM593 445h6v3h-6zM169 445h20v3h-20zM716 445h3v3h-3zM390 445h6v3h-6zM555 446h5v2h-5zM462 446h2v2h-2zM722 446h8v2h-8zM435 446h2v2h-2zM409 446h7v2h-7zM739 447h13v1h-13zM627 447h3v1h-3zM669 447h6v1h-6zM682 447h3v1h-3zM577 447h5v1h-5zM678 447h2v1h-2zM639 447h7v1h-7zM631 447h3v1h-3zM206 447h6v1h-6zM702 447h2v1h-2zM662 447h1v1h-1zM467 447h7v1h-7zM567 447h3v1h-3zM143 447h1v1h-1zM314 447h2v1h-2zM619 447h6v1h-6zM440 447h19v1h-19zM489 447h9v1h-9zM565 447h1v1h-1zM301 445h9v4h-9zM735 446h2v3h-2zM425 446h2v3h-2zM357 446h3v3h-3zM333 447h1v2h-1zM511 447h1v2h-1zM753 447h3v2h-3zM521 448h4v1h-4zM390 448h5v1h-5zM225 448h5v1h-5zM386 448h1v1h-1zM564 448h7v1h-7zM619 448h7v1h-7zM627 448h2v1h-2zM399 448h1v1h-1zM492 448h6v1h-6zM450 448h9v1h-9zM440 448h7v1h-7zM715 448h4v1h-4zM313 448h3v1h-3zM527 448h2v1h-2zM670 448h5v1h-5zM683 448h2v1h-2zM339 444h4v6h-4zM417 446h4v4h-4zM707 447h2v3h-2zM147 447h3v3h-3zM349 447h6v3h-6zM267 447h1v3h-1zM477 447h11v3h-11zM589 447h2v3h-2zM514 447h5v3h-5zM372 447h3v3h-3zM490 448h1v2h-1zM740 448h11v2h-11zM169 448h15v2h-15zM632 448h1v2h-1zM726 448h4v2h-4zM678 448h1v2h-1zM461 448h3v2h-3zM410 448h6v2h-6zM637 448h9v2h-9zM160 448h2v2h-2zM662 448h2v2h-2zM556 448h5v2h-5zM271 448h10v2h-10zM363 448h1v2h-1zM703 448h2v2h-2zM243 448h11v2h-11zM425 449h3v1h-3zM357 449h2v1h-2zM527 449h1v1h-1zM232 449h1v1h-1zM670 449h4v1h-4zM398 449h2v1h-2zM510 449h2v1h-2zM390 449h4v1h-4zM618 449h11v1h-11zM734 449h3v1h-3zM563 449h8v1h-8zM225 449h6v1h-6zM386 449h2v1h-2zM714 449h5v1h-5zM441 449h5v1h-5zM153 443h3v8h-3zM530 446h10v5h-10zM761 446h6v5h-6zM283 446h13v5h-13zM693 447h8v4h-8zM722 448h3v3h-3zM468 448h6v3h-6zM207 448h5v3h-5zM593 448h5v3h-5zM605 448h1v3h-1zM157 448h2v3h-2zM333 449h2v2h-2zM523 449h3v2h-3zM300 449h10v2h-10zM418 450h3v1h-3zM398 450h3v1h-3zM356 450h3v1h-3zM714 450h4v1h-4zM410 450h7v1h-7zM349 450h3v1h-3zM165 450h2v1h-2zM556 450h15v1h-15zM146 450h4v1h-4zM169 450h14v1h-14zM670 450h3v1h-3zM727 450h3v1h-3zM477 450h5v1h-5zM270 450h11v1h-11zM588 450h3v1h-3zM618 450h10v1h-10zM518 450h2v1h-2zM386 450h8v1h-8zM543 444h3v8h-3zM666 447h1v5h-1zM217 448h6v4h-6zM185 448h4v4h-4zM239 448h2v4h-2zM650 448h3v4h-3zM312 449h4v3h-4zM753 449h2v3h-2zM493 449h5v3h-5zM483 450h5v2h-5zM510 450h6v2h-6zM637 450h10v2h-10zM663 450h1v2h-1zM161 450h1v2h-1zM243 450h12v2h-12zM426 450h2v2h-2zM300 451h11v1h-11zM164 451h19v1h-19zM762 451h5v1h-5zM557 451h14v1h-14zM609 451h1v1h-1zM713 451h5v1h-5zM333 451h1v1h-1zM618 451h2v1h-2zM213 451h2v1h-2zM379 451h1v1h-1zM153 451h6v1h-6zM411 451h2v1h-2zM433 451h2v1h-2zM145 451h4v1h-4zM552 451h1v1h-1zM670 451h2v1h-2zM614 449h1v4h-1zM372 450h4v3h-4zM325 450h2v3h-2zM706 450h4v3h-4zM225 450h9v3h-9zM362 450h2v3h-2zM460 450h3v3h-3zM350 451h3v2h-3zM468 451h7v2h-7zM524 451h2v2h-2zM282 451h14v2h-14zM722 451h2v2h-2zM206 451h6v2h-6zM588 451h10v2h-10zM692 451h9v2h-9zM418 451h4v2h-4zM414 451h3v2h-3zM501 452h1v1h-1zM213 452h3v1h-3zM544 452h2v1h-2zM301 452h15v1h-15zM185 452h5v1h-5zM320 452h1v1h-1zM636 452h5v1h-5zM650 452h4v1h-4zM552 452h2v1h-2zM164 452h15v1h-15zM412 452h1v1h-1zM548 452h1v1h-1zM240 452h16v1h-16zM713 452h4v1h-4zM753 452h3v1h-3zM138 450h1v4h-1zM529 451h11v3h-11zM269 451h11v3h-11zM397 451h4v3h-4zM356 451h2v3h-2zM621 451h7v3h-7zM518 451h3v3h-3zM477 451h4v3h-4zM263 452h1v2h-1zM617 452h2v2h-2zM180 452h3v2h-3zM558 452h1v2h-1zM153 452h7v2h-7zM510 452h5v2h-5zM218 452h4v2h-4zM427 452h1v2h-1zM560 452h12v2h-12zM484 452h4v2h-4zM432 452h3v2h-3zM144 452h5v2h-5zM468 453h4v1h-4zM164 453h13v1h-13zM705 453h5v1h-5zM186 453h4v1h-4zM544 453h5v1h-5zM298 453h1v1h-1zM224 453h9v1h-9zM413 453h9v1h-9zM248 453h9v1h-9zM691 453h11v1h-11zM240 453h7v1h-7zM330 453h1v1h-1zM652 453h3v1h-3zM501 453h2v1h-2zM473 453h1v1h-1zM351 453h2v1h-2zM206 453h5v1h-5zM281 453h14v1h-14zM577 448h6v7h-6zM442 450h4v5h-4zM741 450h9v5h-9zM734 450h2v5h-2zM763 452h4v3h-4zM608 452h2v3h-2zM642 452h5v3h-5zM324 453h4v2h-4zM721 453h3v2h-3zM372 453h7v2h-7zM754 453h2v2h-2zM587 453h11v2h-11zM693 454h6v1h-6zM262 454h2v1h-2zM542 454h1v1h-1zM144 454h3v1h-3zM691 454h1v1h-1zM173 454h4v1h-4zM545 454h4v1h-4zM561 454h12v1h-12zM223 454h10v1h-10zM351 454h3v1h-3zM420 454h2v1h-2zM181 454h1v1h-1zM219 454h3v1h-3zM277 454h3v1h-3zM759 454h2v1h-2zM356 454h1v1h-1zM329 454h2v1h-2zM164 454h7v1h-7zM432 454h2v1h-2zM528 454h12v1h-12zM289 454h6v1h-6zM187 454h4v1h-4zM451 449h8v7h-8zM385 451h9v5h-9zM404 452h1v4h-1zM492 452h6v4h-6zM553 453h2v3h-2zM525 453h2v3h-2zM245 454h2v2h-2zM676 454h1v2h-1zM281 454h3v2h-3zM285 454h3v2h-3zM297 454h2v2h-2zM485 454h3v2h-3zM413 454h6v2h-6zM616 454h2v2h-2zM620 454h8v2h-8zM206 454h4v2h-4zM278 455h1v1h-1zM528 455h11v1h-11zM541 455h2v1h-2zM690 455h2v1h-2zM587 455h12v1h-12zM763 455h3v1h-3zM352 455h2v1h-2zM734 455h3v1h-3zM561 455h13v1h-13zM219 455h2v1h-2zM371 455h8v1h-8zM745 455h5v1h-5zM262 455h3v1h-3zM165 455h6v1h-6zM607 455h3v1h-3zM741 455h3v1h-3zM758 455h3v1h-3zM722 455h1v1h-1zM195 446h3v11h-3zM727 451h2v6h-2zM665 452h3v5h-3zM460 453h2v4h-2zM212 453h4v4h-4zM310 453h5v4h-5zM301 453h7v4h-7zM320 453h2v4h-2zM517 454h4v3h-4zM501 454h4v3h-4zM249 454h8v3h-8zM184 454h1v3h-1zM700 454h3v3h-3zM427 454h2v3h-2zM705 454h4v3h-4zM477 454h5v3h-5zM511 454h3v3h-3zM152 454h8v3h-8zM240 454h4v3h-4zM397 454h5v3h-5zM431 455h3v2h-3zM139 455h2v2h-2zM474 455h1v2h-1zM642 455h6v2h-6zM754 455h3v2h-3zM324 455h7v2h-7zM143 455h4v2h-4zM188 455h3v2h-3zM694 455h5v2h-5zM601 455h1v2h-1zM758 456h8v1h-8zM416 456h3v1h-3zM219 456h1v1h-1zM525 456h13v1h-13zM607 456h5v1h-5zM540 456h3v1h-3zM562 456h12v1h-12zM413 456h2v1h-2zM205 456h6v1h-6zM689 456h3v1h-3zM362 453h3v5h-3zM636 453h4v5h-4zM269 454h7v4h-7zM652 454h4v4h-4zM468 454h3v4h-3zM222 455h11v3h-11zM578 455h5v3h-5zM290 455h4v3h-4zM443 455h3v3h-3zM173 455h3v3h-3zM545 455h5v3h-5zM261 456h4v2h-4zM297 456h3v2h-3zM492 456h7v2h-7zM375 456h4v2h-4zM620 456h6v2h-6zM281 456h6v2h-6zM586 456h13v2h-13zM616 456h1v2h-1zM451 456h7v2h-7zM385 456h10v2h-10zM404 456h2v2h-2zM371 456h2v2h-2zM485 456h2v2h-2zM320 457h11v1h-11zM477 457h1v1h-1zM480 457h3v1h-3zM732 457h1v1h-1zM301 457h6v1h-6zM500 457h5v1h-5zM646 457h1v1h-1zM694 457h4v1h-4zM540 457h4v1h-4zM642 457h3v1h-3zM754 457h12v1h-12zM632 457h1v1h-1zM194 457h4v1h-4zM183 457h1v1h-1zM664 457h5v1h-5zM525 457h12v1h-12zM152 457h10v1h-10zM600 457h2v1h-2zM187 457h4v1h-4zM239 457h5v1h-5zM310 457h4v1h-4zM417 457h2v1h-2zM460 457h3v1h-3zM143 457h3v1h-3zM234 457h2v1h-2zM339 450h3v9h-3zM712 453h5v6h-5zM352 456h3v3h-3zM742 456h2v3h-2zM735 456h2v3h-2zM553 456h3v3h-3zM563 457h13v2h-13zM700 457h9v2h-9zM138 457h3v2h-3zM428 457h1v2h-1zM431 457h2v2h-2zM606 457h6v2h-6zM686 457h5v2h-5zM249 457h9v2h-9zM173 458h4v1h-4zM142 458h4v1h-4zM319 458h12v1h-12zM267 458h8v1h-8zM484 458h3v1h-3zM664 458h6v1h-6zM260 458h5v1h-5zM507 458h1v1h-1zM290 458h3v1h-3zM493 458h12v1h-12zM730 458h3v1h-3zM578 458h6v1h-6zM754 458h9v1h-9zM187 458h11v1h-11zM385 458h11v1h-11zM643 458h1v1h-1zM586 458h16v1h-16zM524 458h13v1h-13zM631 458h2v1h-2zM726 458h1v1h-1zM228 458h8v1h-8zM481 458h2v1h-2zM418 458h1v1h-1zM238 458h6v1h-6zM375 458h2v1h-2zM476 458h2v1h-2zM421 455h2v5h-2zM164 456h7v4h-7zM316 456h1v4h-1zM675 456h2v4h-2zM746 456h4v4h-4zM636 458h3v2h-3zM540 458h10v2h-10zM764 458h2v2h-2zM282 458h4v2h-4zM378 458h2v2h-2zM651 458h5v2h-5zM160 458h2v2h-2zM694 458h3v2h-3zM297 458h10v2h-10zM248 459h10v1h-10zM578 459h13v1h-13zM524 459h5v1h-5zM530 459h6v1h-6zM475 459h3v1h-3zM631 459h3v1h-3zM270 459h3v1h-3zM318 459h12v1h-12zM187 459h8v1h-8zM553 459h4v1h-4zM384 459h12v1h-12zM563 459h5v1h-5zM592 459h10v1h-10zM334 459h1v1h-1zM711 459h6v1h-6zM260 459h9v1h-9zM736 459h2v1h-2zM411 459h1v1h-1zM512 457h2v4h-2zM363 458h2v3h-2zM730 459h4v2h-4zM699 459h10v2h-10zM605 459h6v2h-6zM481 459h6v2h-6zM352 459h2v2h-2zM664 459h2v2h-2zM138 459h8v2h-8zM725 459h3v2h-3zM228 459h14v2h-14zM524 460h12v1h-12zM654 460h2v1h-2zM577 460h14v1h-14zM554 460h3v1h-3zM384 460h13v1h-13zM564 460h4v1h-4zM333 460h1v1h-1zM283 460h3v1h-3zM326 460h4v1h-4zM316 460h9v1h-9zM259 460h14v1h-14zM745 460h5v1h-5zM257 460h1v1h-1zM517 457h3v5h-3zM152 458h7v4h-7zM452 458h6v4h-6zM620 458h5v4h-5zM309 458h5v4h-5zM685 459h5v3h-5zM667 459h3v3h-3zM569 459h7v3h-7zM494 459h11v3h-11zM540 460h11v2h-11zM694 460h2v2h-2zM637 460h2v2h-2zM737 460h2v2h-2zM593 460h9v2h-9zM161 460h10v2h-10zM186 460h3v2h-3zM429 460h1v2h-1zM421 460h6v2h-6zM410 460h2v2h-2zM651 460h1v2h-1zM745 461h4v1h-4zM284 461h2v1h-2zM364 461h1v1h-1zM317 461h8v1h-8zM577 461h10v1h-10zM604 461h6v1h-6zM513 461h1v1h-1zM259 461h13v1h-13zM398 457h4v6h-4zM222 458h4v5h-4zM339 459h4v4h-4zM174 459h4v4h-4zM248 460h7v3h-7zM148 460h2v3h-2zM379 460h1v3h-1zM674 460h4v3h-4zM712 460h5v3h-5zM182 461h1v2h-1zM555 461h2v2h-2zM199 461h1v2h-1zM524 461h11v2h-11zM383 461h14v2h-14zM564 461h3v2h-3zM730 461h5v2h-5zM229 461h13v2h-13zM138 461h7v2h-7zM657 461h2v2h-2zM598 462h4v1h-4zM620 462h4v1h-4zM415 462h1v1h-1zM603 462h6v1h-6zM515 462h5v1h-5zM169 462h2v1h-2zM569 462h18v1h-18zM259 462h5v1h-5zM745 462h3v1h-3zM637 462h3v1h-3zM309 462h3v1h-3zM540 462h12v1h-12zM680 462h1v1h-1zM205 457h11v7h-11zM444 458h3v6h-3zM467 458h4v6h-4zM291 459h2v5h-2zM754 459h8v5h-8zM507 459h2v5h-2zM631 460h4v4h-4zM475 460h2v4h-2zM296 460h11v4h-11zM614 461h2v3h-2zM327 461h3v3h-3zM699 461h12v3h-12zM724 461h4v3h-4zM663 461h3v3h-3zM588 461h3v3h-3zM314 462h1v2h-1zM495 462h9v2h-9zM593 462h4v2h-4zM409 462h3v2h-3zM265 462h7v2h-7zM424 462h3v2h-3zM317 462h5v2h-5zM161 462h7v2h-7zM683 462h6v2h-6zM667 462h4v2h-4zM186 462h2v2h-2zM452 462h5v2h-5zM565 463h1v1h-1zM523 463h12v1h-12zM674 463h7v1h-7zM555 463h1v1h-1zM744 463h4v1h-4zM340 463h3v1h-3zM175 463h3v1h-3zM713 463h4v1h-4zM310 463h1v1h-1zM569 463h17v1h-17zM729 463h6v1h-6zM259 463h4v1h-4zM139 463h6v1h-6zM656 463h3v1h-3zM199 463h2v1h-2zM221 463h5v1h-5zM370 458h3v7h-3zM482 461h4v4h-4zM737 462h3v3h-3zM324 462h2v3h-2zM545 463h7v2h-7zM229 463h9v2h-9zM181 463h2v2h-2zM147 463h3v2h-3zM249 463h5v2h-5zM637 463h4v2h-4zM540 463h4v2h-4zM598 463h11v2h-11zM383 463h19v2h-19zM621 463h3v2h-3zM198 464h3v1h-3zM699 464h13v1h-13zM673 464h15v1h-15zM176 464h2v1h-2zM476 464h1v1h-1zM587 464h3v1h-3zM523 464h6v1h-6zM568 464h18v1h-18zM357 464h1v1h-1zM359 464h1v1h-1zM296 464h6v1h-6zM530 464h5v1h-5zM340 464h2v1h-2zM327 464h2v1h-2zM464 464h1v1h-1zM467 464h3v1h-3zM663 464h9v1h-9zM753 464h9v1h-9zM185 464h3v1h-3zM276 464h2v1h-2zM190 460h5v6h-5zM719 463h1v3h-1zM441 463h1v3h-1zM239 463h3v3h-3zM766 463h1v3h-1zM424 464h4v2h-4zM265 464h2v2h-2zM220 464h6v2h-6zM713 464h3v2h-3zM592 464h5v2h-5zM496 464h7v2h-7zM259 464h5v2h-5zM139 464h7v2h-7zM408 464h3v2h-3zM269 464h3v2h-3zM304 464h3v2h-3zM459 464h2v2h-2zM744 464h3v2h-3zM444 464h4v2h-4zM296 465h5v1h-5zM347 465h1v1h-1zM275 465h3v1h-3zM463 465h2v1h-2zM339 465h2v1h-2zM697 465h15v1h-15zM586 465h4v1h-4zM663 465h24v1h-24zM176 465h1v1h-1zM753 465h10v1h-10zM397 465h6v1h-6zM545 465h8v1h-8zM198 465h4v1h-4zM737 465h4v1h-4zM147 465h4v1h-4zM622 465h2v1h-2zM530 465h4v1h-4zM466 465h4v1h-4zM693 462h3v5h-3zM153 462h6v5h-6zM284 462h3v5h-3zM414 463h2v4h-2zM514 463h6v4h-6zM724 464h11v3h-11zM613 464h3v3h-3zM205 464h10v3h-10zM292 464h2v3h-2zM324 465h5v2h-5zM648 465h1v2h-1zM181 465h7v2h-7zM561 465h1v2h-1zM382 465h14v2h-14zM522 465h6v2h-6zM568 465h12v2h-12zM581 465h3v2h-3zM426 466h1v1h-1zM195 466h7v1h-7zM697 466h19v1h-19zM263 466h4v1h-4zM757 466h6v1h-6zM622 466h1v1h-1zM144 466h7v1h-7zM397 466h7v1h-7zM441 466h7v1h-7zM530 466h3v1h-3zM545 466h9v1h-9zM366 466h1v1h-1zM736 466h5v1h-5zM190 466h3v1h-3zM220 466h7v1h-7zM663 466h21v1h-21zM453 464h3v4h-3zM316 464h6v4h-6zM656 464h4v4h-4zM161 464h6v4h-6zM249 465h2v3h-2zM357 465h4v3h-4zM599 465h10v3h-10zM230 465h8v3h-8zM539 465h4v3h-4zM252 465h2v3h-2zM592 466h6v2h-6zM269 466h2v2h-2zM259 466h3v2h-3zM296 466h4v2h-4zM330 466h2v2h-2zM139 466h4v2h-4zM339 466h1v2h-1zM363 466h1v2h-1zM586 466h3v2h-3zM496 466h6v2h-6zM753 466h3v2h-3zM408 466h2v2h-2zM433 467h1v1h-1zM153 467h7v1h-7zM442 467h6v1h-6zM342 467h1v1h-1zM692 467h25v1h-25zM544 467h10v1h-10zM263 467h5v1h-5zM514 467h14v1h-14zM180 467h13v1h-13zM144 467h8v1h-8zM506 464h3v5h-3zM744 466h2v3h-2zM240 466h2v3h-2zM765 466h2v3h-2zM274 466h5v3h-5zM685 466h2v3h-2zM283 467h4v2h-4zM664 467h19v2h-19zM612 467h5v2h-5zM723 467h18v2h-18zM761 467h2v2h-2zM324 467h4v2h-4zM221 467h6v2h-6zM195 467h8v2h-8zM570 467h13v2h-13zM291 467h3v2h-3zM205 467h9v2h-9zM432 468h2v1h-2zM539 468h15v1h-15zM599 468h8v1h-8zM249 468h5v1h-5zM562 468h1v1h-1zM295 468h5v1h-5zM608 468h1v1h-1zM500 468h1v1h-1zM654 468h7v1h-7zM720 468h1v1h-1zM698 468h19v1h-19zM496 468h3v1h-3zM594 468h4v1h-4zM357 468h3v1h-3zM180 468h7v1h-7zM338 468h5v1h-5zM630 464h5v6h-5zM482 465h6v5h-6zM637 465h5v5h-5zM371 465h2v5h-2zM459 466h11v4h-11zM366 467h2v3h-2zM413 467h3v3h-3zM530 467h2v3h-2zM402 467h2v3h-2zM381 467h3v3h-3zM752 468h4v2h-4zM144 468h17v2h-17zM536 468h1v2h-1zM264 468h6v2h-6zM454 468h2v2h-2zM514 468h13v2h-13zM408 468h1v2h-1zM442 468h3v2h-3zM317 468h5v2h-5zM363 468h2v2h-2zM329 468h3v2h-3zM446 468h2v2h-2zM188 468h5v2h-5zM761 469h6v1h-6zM291 469h2v1h-2zM205 469h8v1h-8zM720 469h5v1h-5zM698 469h17v1h-17zM611 469h6v1h-6zM195 469h9v1h-9zM429 469h5v1h-5zM323 469h5v1h-5zM249 469h4v1h-4zM595 469h3v1h-3zM350 469h1v1h-1zM716 469h2v1h-2zM356 469h4v1h-4zM283 469h5v1h-5zM337 469h6v1h-6zM507 469h2v1h-2zM562 469h2v1h-2zM304 466h4v5h-4zM386 467h10v4h-10zM397 467h3v4h-3zM162 468h4v3h-4zM230 468h9v3h-9zM586 468h4v3h-4zM259 468h2v3h-2zM496 469h2v2h-2zM180 469h6v2h-6zM654 469h8v2h-8zM538 469h16v2h-16zM273 469h7v2h-7zM726 469h16v2h-16zM311 470h2v1h-2zM382 470h1v1h-1zM530 470h1v1h-1zM699 470h16v1h-16zM354 470h6v1h-6zM158 470h3v1h-3zM628 470h1v1h-1zM402 470h3v1h-3zM454 470h1v1h-1zM720 470h4v1h-4zM282 470h1v1h-1zM337 470h7v1h-7zM362 470h6v1h-6zM615 470h3v1h-3zM716 470h3v1h-3zM349 470h2v1h-2zM323 470h4v1h-4zM147 470h10v1h-10zM265 470h5v1h-5zM647 467h2v5h-2zM692 468h5v4h-5zM686 469h1v3h-1zM600 469h7v3h-7zM664 469h18v3h-18zM221 469h7v3h-7zM571 469h12v3h-12zM295 469h4v3h-4zM138 469h1v3h-1zM631 470h4v2h-4zM318 470h4v2h-4zM188 470h4v2h-4zM515 470h12v2h-12zM762 470h5v2h-5zM441 470h4v2h-4zM290 470h3v2h-3zM562 470h4v2h-4zM407 470h2v2h-2zM195 470h18v2h-18zM412 470h4v2h-4zM250 470h3v2h-3zM372 470h1v2h-1zM284 470h4v2h-4zM459 470h12v2h-12zM428 470h6v2h-6zM596 470h2v2h-2zM637 470h6v2h-6zM481 470h8v2h-8zM751 470h6v2h-6zM301 470h1v2h-1zM610 470h3v2h-3zM329 470h2v2h-2zM143 470h3v2h-3zM402 471h4v1h-4zM652 471h11v1h-11zM349 471h1v1h-1zM365 471h3v1h-3zM586 471h5v1h-5zM323 471h3v1h-3zM147 471h9v1h-9zM259 471h3v1h-3zM628 471h2v1h-2zM353 471h7v1h-7zM386 471h13v1h-13zM537 471h17v1h-17zM711 471h4v1h-4zM273 471h10v1h-10zM736 471h6v1h-6zM726 471h8v1h-8zM336 471h8v1h-8zM699 471h11v1h-11zM229 471h10v1h-10zM451 471h1v1h-1zM497 471h1v1h-1zM616 471h4v1h-4zM266 471h4v1h-4zM180 471h7v1h-7zM304 471h9v1h-9zM362 471h2v1h-2zM717 471h7v1h-7zM158 471h7v1h-7z"/></g>
<rect x="238" y="469" width="3" height="2" fill="#0055ff"/>
<rect x="251" y="469" width="3" height="2" fill="#00ffff"/>
<rect x="253" y="469" width="3" height="2" fill="#0055ff"/>
<rect x="384" y="469" width="3" height="2" fill="#00ffff"/>
<rect x="444" y="469" width="3" height="2" fill="#00ffff"/>
<rect x="467" y="469" width="3" height="2" fill="#0055ff"/>
<rect x="513" y="469" width="3" height="2" fill="#00ffff"/>
<rect x="549" y="469" width="3" height="2" fill="#00ffff"/>
<rect x="581" y="469" width="3" height="2" fill="#00ffff"/>
<rect x="605" y="469" width="3" height="2" fill="#00ffff"/>
<rect x="710" y="469" width="3" height="2" fill="#0055ff"/>
<rect x="737" y="469" width="3" height="2" fill="#0055ff"/>
<g fill="#000">
<rect x="135" y="156" width="634" height="2"/>
<rect x="135" y="472" width="634" height="2"/>
<rect x="135" y="156" width="2" height="318"/>
<rect x="767" y="156" width="2" height="318"/>
<rect x="160" y="158" width="1" height="4"/>
<rect x="160" y="469" width="1" height="3"/>
<rect x="184" y="158" width="2" height="9"/>
<rect x="184" y="463" width="2" height="9"/>
<rect x="211" y="158" width="1" height="4"/>
<rect x="211" y="469" width="1" height="3"/>
<rect x="235" y="158" width="2" height="9"/>
<rect x="235" y="463" width="2" height="9"/>
<rect x="262" y="158" width="1" height="4"/>
<rect x="262" y="469" width="1" height="3"/>
<rect x="286" y="158" width="2" height="9"/>
<rect x="286" y="463" width="2" height="9"/>
<rect x="312" y="158" width="1" height="4"/>
<rect x="312" y="469" width="1" height="3"/>
<rect x="337" y="158" width="2" height="9"/>
<rect x="337" y="463" width="2" height="9"/>
<rect x="363" y="158" width="1" height="4"/>
<rect x="363" y="469" width="1" height="3"/>
<rect x="387" y="158" width="2" height="9"/>
<rect x="387" y="463" width="2" height="9"/>
<rect x="414" y="158" width="1" height="4"/>
<rect x="414" y="469" width="1" height="3"/>
<rect x="438" y="158" width="2" height="9"/>
<rect x="438" y="463" width="2" height="9"/>
<rect x="465" y="158" width="1" height="4"/>
<rect x="465" y="469" width="1" height="3"/>
<rect x="489" y="158" width="2" height="9"/>
<rect x="489" y="463" width="2" height="9"/>
<rect x="516" y="158" width="1" height="4"/>
<rect x="516" y="469" width="1" height="3"/>
<rect x="540" y="158" width="2" height="9"/>
<rect x="540" y="463" width="2" height="9"/>
<rect x="566" y="158" width="1" height="4"/>
<rect x="566" y="469" width="1" height="3"/>
<rect x="591" y="158" width="2" height="9"/>
<rect x="591" y="463" width="2" height="9"/>
<rect x="617" y="158" width="1" height="4"/>
<rect x="617" y="469" width="1" height="3"/>
<rect x="641" y="158" width="2" height="9"/>
<rect x="641" y="463" width="2" height="9"/>
<rect x="668" y="158" width="1" height="4"/>
<rect x="668" y="469" width="1" height="3"/>
<rect x="692" y="158" width="2" height="9"/>
<rect x="692" y="463" width="2" height="9"/>
<rect x="719" y="158" width="1" height="4"/>
<rect x="719" y="469" width="1" height="3"/>
<rect x="743" y="158" width="2" height="9"/>
<rect x="743" y="463" width="2" height="9"/>
<rect x="137" y="459" width="4" height="1"/>
<rect x="764" y="459" width="3" height="1"/>
<rect x="137" y="443" width="4" height="1"/>
<rect x="764" y="443" width="3" height="1"/>
<rect x="137" y="427" width="4" height="1"/>
<rect x="764" y="427" width="3" height="1"/>
<rect x="137" y="411" width="4" height="1"/>
<rect x="764" y="411" width="3" height="1"/>
<rect x="137" y="394" width="8" height="2"/>
<rect x="759" y="394" width="8" height="2"/>
<rect x="137" y="379" width="4" height="1"/>
<rect x="764" y="379" width="3" height="1"/>
<rect x="137" y="363" width="4" height="1"/>
<rect x="764" y="363" width="3" height="1"/>
<rect x="137" y="347" width="4" height="1"/>
<rect x="764" y="347" width="3" height="1"/>
<rect x="137" y="331" width="4" height="1"/>
<rect x="764" y="331" width="3" height="1"/>
<rect x="137" y="314" width="8" height="2"/>
<rect x="759" y="314" width="8" height="2"/>
<rect x="137" y="299" width="4" height="1"/>
<rect x="764" y="299" width="3" height="1"/>
<rect x="137" y="283" width="4" height="1"/>
<rect x="764" y="283" width="3" height="1"/>
<rect x="137" y="267" width="4" height="1"/>
<rect x="764" y="267" width="3" height="1"/>
<rect x="137" y="251" width="4" height="1"/>
<rect x="764" y="251" width="3" height="1"/>
<rect x="137" y="234" width="8" height="2"/>
<rect x="759" y="234" width="8" height="2"/>
<rect x="137" y="219" width="4" height="1"/>
<rect x="764" y="219" width="3" height="1"/>
<rect x="137" y="203" width="4" height="1"/>
<rect x="764" y="203" width="3" height="1"/>
<rect x="137" y="187" width="4" height="1"/>
<rect x="764" y="187" width="3" height="1"/>
<rect x="137" y="171" width="4" height="1"/>
<rect x="764" y="171" width="3" height="1"/>
</g>
<g>
<rect x="783" y="246" width="20" height="25" fill="#ff2020"/>
<rect x="783" y="269" width="20" height="24" fill="#ff5500"/>
<rect x="783" y="291" width="20" height="25" fill="#ffaa00"/>
<rect x="783" y="314" width="20" height="25" fill="#ffff00"/>
<rect x="783" y="337" width="20" height="24" fill="#8cff00"/>
<rect x="783" y="359" width="20" height="25" fill="#00ff80"/>
<rect x="783" y="382" width="20" height="24" fill="#00ffff"/>
<rect x="783" y="404" width="20" height="25" fill="#0055ff"/>
<rect x="783" y="427" width="20" height="25" fill="#0000aa"/>
<rect x="783" y="450" width="20" height="24" fill="#3300aa"/>
</g>
<g fill="none" stroke="#000" stroke-width="2">
<line x1="783" y1="247" x2="803" y2="247"/>
<line x1="783" y1="270" x2="803" y2="270"/>
<line x1="783" y1="292" x2="803" y2="292"/>
<line x1="783" y1="315" x2="803" y2="315"/>
<line x1="783" y1="338" x2="803" y2="338"/>
<line x1="783" y1="360" x2="803" y2="360"/>
<line x1="783" y1="383" x2="803" y2="383"/>
<line x1="783" y1="405" x2="803" y2="405"/>
<line x1="783" y1="428" x2="803" y2="428"/>
<line x1="783" y1="451" x2="803" y2="451"/>
<line x1="783" y1="473" x2="803" y2="473"/>
<line x1="784" y1="246" x2="784" y2="474"/><line x1="802" y1="246" x2="802" y2="474"/>
</g>
<path d="M784,247 L793.3,207 L801.7,247 Z" fill="#ffaaaa" stroke="#000" stroke-width="2" shape-rendering="auto"/>
<path d="M784,473 L793.3,514 L801.7,473 Z" fill="#8800aa" stroke="#000" stroke-width="2" shape-rendering="auto"/>
<text x="224" y="113.3" font-size="28" text-anchor="start" textLength="457" lengthAdjust="spacing" stroke="#fff" stroke-width="0.25">potential temperature deviation</text>
<text x="47" y="134.2" font-size="17" text-anchor="start" textLength="64.5" lengthAdjust="spacingAndGlyphs" stroke="#000" stroke-width="0.25">(×1000</text>
<text x="120" y="134.2" font-size="17" text-anchor="start" textLength="25" lengthAdjust="spacingAndGlyphs" stroke="#000" stroke-width="0.25">m)</text>
<text x="684" y="516.2" font-size="17" text-anchor="start" textLength="64.5" lengthAdjust="spacingAndGlyphs" stroke="#000" stroke-width="0.25">(×1000</text>
<text x="757" y="516.2" font-size="17" text-anchor="start" textLength="25" lengthAdjust="spacingAndGlyphs" stroke="#000" stroke-width="0.25">m)</text>
<text x="778" y="169.3" font-size="17" text-anchor="start" textLength="121" lengthAdjust="spacingAndGlyphs" stroke="#fff" stroke-width="0.35">t=1.6992e+06</text>
<text x="378" y="547" font-size="23.5" text-anchor="start" textLength="149" lengthAdjust="spacing">X coordinate</text>
<text x="0" y="0" font-size="24.5" textLength="149" lengthAdjust="spacing" transform="translate(91.5,390) rotate(-90)">Z coordinate</text>
<text x="185.6" y="495" font-size="18" text-anchor="middle" textLength="12" lengthAdjust="spacingAndGlyphs" stroke="#000" stroke-width="0.4">4</text>
<text x="236.4" y="495" font-size="18" text-anchor="middle" textLength="12" lengthAdjust="spacingAndGlyphs" stroke="#000" stroke-width="0.4">8</text>
<text x="287.2" y="495" font-size="18" text-anchor="middle" textLength="21.5" lengthAdjust="spacingAndGlyphs" stroke="#000" stroke-width="0.4">12</text>
<text x="338.0" y="495" font-size="18" text-anchor="middle" textLength="21.5" lengthAdjust="spacingAndGlyphs" stroke="#000" stroke-width="0.4">16</text>
<text x="388.8" y="495" font-size="18" text-anchor="middle" textLength="21.5" lengthAdjust="spacingAndGlyphs" stroke="#000" stroke-width="0.4">20</text>
<text x="439.6" y="495" font-size="18" text-anchor="middle" textLength="21.5" lengthAdjust="spacingAndGlyphs" stroke="#000" stroke-width="0.4">24</text>
<text x="490.4" y="495" font-size="18" text-anchor="middle" textLength="21.5" lengthAdjust="spacingAndGlyphs" stroke="#000" stroke-width="0.4">28</text>
<text x="541.2" y="495" font-size="18" text-anchor="middle" textLength="21.5" lengthAdjust="spacingAndGlyphs" stroke="#000" stroke-width="0.4">32</text>
<text x="592.0" y="495" font-size="18" text-anchor="middle" textLength="21.5" lengthAdjust="spacingAndGlyphs" stroke="#000" stroke-width="0.4">36</text>
<text x="642.8" y="495" font-size="18" text-anchor="middle" textLength="21.5" lengthAdjust="spacingAndGlyphs" stroke="#000" stroke-width="0.4">40</text>
<text x="693.6" y="495" font-size="18" text-anchor="middle" textLength="21.5" lengthAdjust="spacingAndGlyphs" stroke="#000" stroke-width="0.4">44</text>
<text x="744.4" y="495" font-size="18" text-anchor="middle" textLength="21.5" lengthAdjust="spacingAndGlyphs" stroke="#000" stroke-width="0.4">48</text>
<text x="127" y="401.3" font-size="18" text-anchor="end" textLength="12" lengthAdjust="spacingAndGlyphs" stroke="#000" stroke-width="0.4">5</text>
<text x="127" y="321.3" font-size="18" text-anchor="end" textLength="21.5" lengthAdjust="spacingAndGlyphs" stroke="#000" stroke-width="0.4">10</text>
<text x="127" y="241.3" font-size="18" text-anchor="end" textLength="21.5" lengthAdjust="spacingAndGlyphs" stroke="#000" stroke-width="0.4">15</text>
<text x="810" y="275.8" font-size="17.5" text-anchor="start" textLength="36.5" lengthAdjust="spacingAndGlyphs" stroke="#000" stroke-width="0.35">0.32</text>
<text x="810" y="320.8" font-size="17.5" text-anchor="start" textLength="36.5" lengthAdjust="spacingAndGlyphs" stroke="#000" stroke-width="0.35">0.16</text>
<text x="810" y="366.3" font-size="17.5" text-anchor="start" textLength="11.5" lengthAdjust="spacingAndGlyphs" stroke="#000" stroke-width="0.35">0</text>
<text x="810" y="411" font-size="17.5" text-anchor="start" textLength="49.5" lengthAdjust="spacingAndGlyphs" stroke="#000" stroke-width="0.35">−0.16</text>
<text x="810" y="456.8" font-size="17.5" text-anchor="start" textLength="49.5" lengthAdjust="spacingAndGlyphs" stroke="#000" stroke-width="0.35">−0.32</text>
</svg></body></html>
